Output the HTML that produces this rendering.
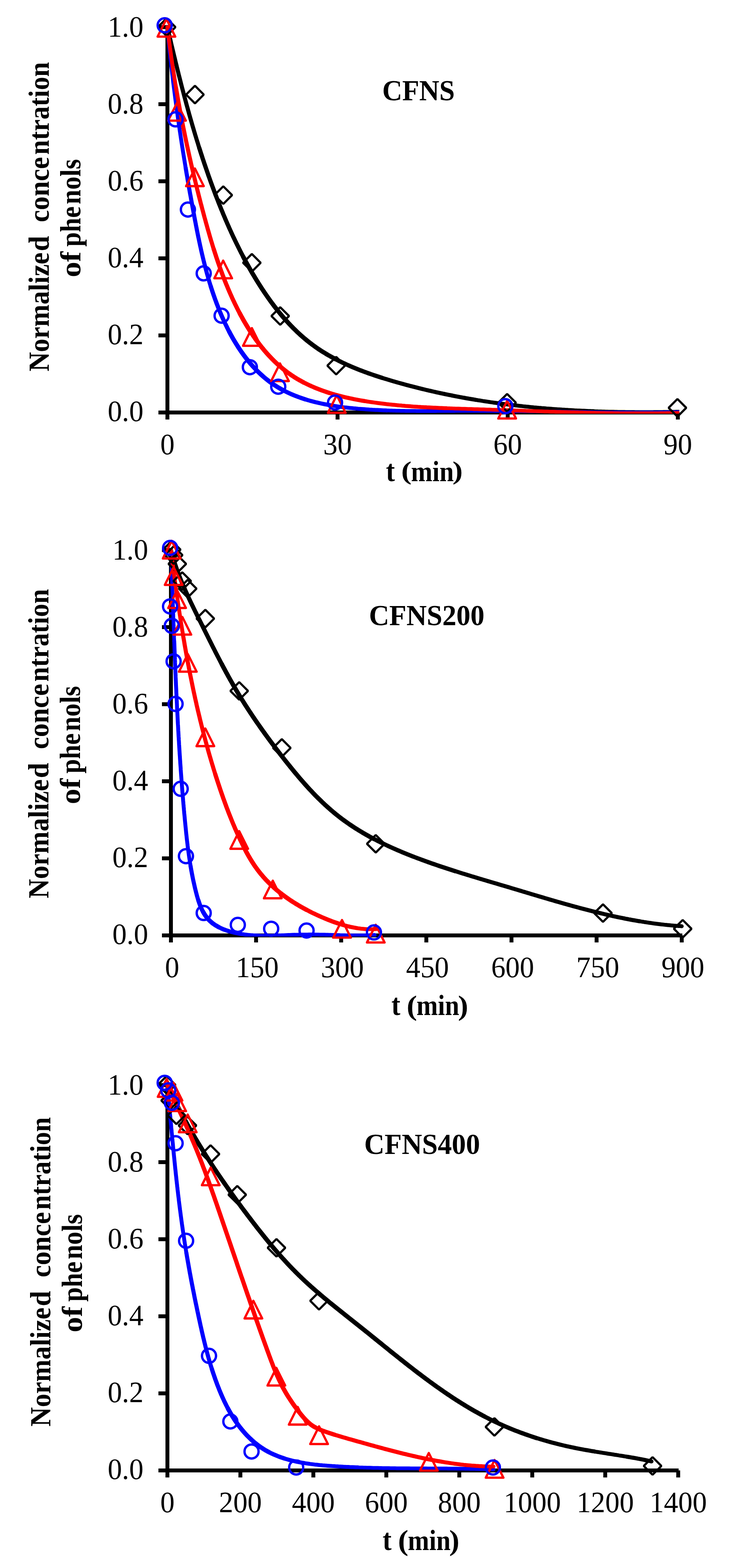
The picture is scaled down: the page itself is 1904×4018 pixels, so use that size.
<!DOCTYPE html>
<html><head><meta charset="utf-8"><title>Normalized concentration of phenols vs time</title>
<style>
html,body{margin:0;padding:0;background:#fff;}
svg{display:block;}
text{font-family:"Liberation Serif","Times New Roman",serif;fill:#000;}
</style></head>
<body>
<svg width="1904" height="4018" viewBox="0 0 1904 4018">
<defs><clipPath id="pa0"><rect x="369" y="-10.5" width="1372" height="1070.5"/></clipPath><clipPath id="pa1"><rect x="378" y="1329.5" width="1392" height="1070.5"/></clipPath><clipPath id="pa2"><rect x="369" y="2700.5" width="1390" height="1070.5"/></clipPath></defs>
<rect width="1904" height="4018" fill="#fff"/>
<line x1="429" y1="64.5" x2="429" y2="1075" stroke="#000" stroke-width="10"/>
<line x1="424" y1="1057" x2="1741" y2="1057" stroke="#000" stroke-width="10"/>
<line x1="406" y1="1057.0" x2="429" y2="1057.0" stroke="#000" stroke-width="10"/>
<line x1="406" y1="859.5" x2="429" y2="859.5" stroke="#000" stroke-width="10"/>
<line x1="406" y1="662.0" x2="429" y2="662.0" stroke="#000" stroke-width="10"/>
<line x1="406" y1="464.5" x2="429" y2="464.5" stroke="#000" stroke-width="10"/>
<line x1="406" y1="267.0" x2="429" y2="267.0" stroke="#000" stroke-width="10"/>
<line x1="406" y1="69.5" x2="429" y2="69.5" stroke="#000" stroke-width="10"/>
<line x1="429.0" y1="1057" x2="429.0" y2="1075" stroke="#000" stroke-width="10"/>
<line x1="865.0" y1="1057" x2="865.0" y2="1075" stroke="#000" stroke-width="10"/>
<line x1="1301.0" y1="1057" x2="1301.0" y2="1075" stroke="#000" stroke-width="10"/>
<line x1="1737.0" y1="1057" x2="1737.0" y2="1075" stroke="#000" stroke-width="10"/>
<g clip-path="url(#pa0)"><g fill="none" stroke="#000000" stroke-linecap="round" stroke-linejoin="round"><path d="M429.0,69.5L429.9,73.4L430.8,77.4L431.7,81.3L432.6,85.2L433.5,89.1L434.4,93.1L435.4,97.0L436.3,100.9L437.2,104.8L438.1,108.8L439.0,112.7L439.9,116.6L440.9,120.5L441.8,124.4L442.7,128.3L443.7,132.3L444.6,136.2L445.5,140.1L446.5,144.0L447.4,147.9L448.4,151.8L449.3,155.7L450.2,159.6L451.2,163.5L452.2,167.4L453.1,171.3L454.1,175.2L455.0,179.1L456.0,183.0L457.0,186.9L457.9,190.8L458.9,194.6L459.9,198.5L460.9,202.4L461.9,206.3L462.9,210.2L463.8,214.1L464.8,217.9L465.8,221.8L466.8,225.7L467.9,229.6L468.9,233.4L469.9,237.3L470.9,241.2L471.9,245.0L472.9,248.9L474.0,252.8L475.0,256.6L476.1,260.5L477.1,264.4L478.1,268.2L479.2,272.1L480.3,275.9L481.3,279.8L482.4,283.6L483.5,287.5L484.5,291.3L485.6,295.2L486.7,299.0L487.8,302.9L488.9,306.7L490.0,310.5L491.1,314.4L492.2,318.2L493.3,322.0L494.4,325.9L495.6,329.7L496.7,333.5L497.8,337.4L499.0,341.2L500.1,345.0L501.3,348.8L502.5,352.7L503.6,356.5L504.8,360.3L506.0,364.1L507.2,367.9L508.3,371.7L509.5,375.6L510.7,379.4" stroke-width="10.5"/><path d="M510.7,379.4L512.0,383.2L513.2,387.0L514.4,390.8L515.6,394.6L516.9,398.4L518.1,402.2L519.3,406.0L520.6,409.8L521.9,413.6L523.1,417.4L524.4,421.1L525.7,424.9L527.0,428.7L528.3,432.5L529.6,436.3L530.9,440.1L532.2,443.8L533.5,447.6L534.8,451.4L536.2,455.2L537.5,458.9L538.9,462.7L540.2,466.5L541.6,470.2L543.0,474.0L544.4,477.8L545.8,481.5L547.2,485.3L548.6,489.0L550.0,492.8L551.4,496.6L552.8,500.3L554.3,504.1L555.7,507.8L557.2,511.5L558.7,515.3L560.1,519.0L561.6,522.8L563.1,526.5L564.6,530.2L566.1,534.0L567.6,537.7L569.2,541.4L570.7,545.1L572.2,548.9L573.8,552.6L575.4,556.3L576.9,560.0L578.5,563.7L580.1,567.4L581.7,571.1L583.3,574.8L585.0,578.5L586.6,582.2L588.2,585.9L589.9,589.5L591.6,593.2L593.2,596.9L594.9,600.5L596.6,604.2L598.3,607.8L600.1,611.5L601.8,615.1L603.6,618.8L605.3,622.4L607.1,626.0L608.9,629.7L610.7,633.3L612.5,636.9L614.3,640.5L616.1,644.1L617.9,647.7L619.8,651.3L621.7,654.9L623.5,658.4" stroke-width="11.0"/><path d="M623.5,658.4L625.4,662.0L627.3,665.6L629.3,669.1L631.2,672.7L633.1,676.2L635.1,679.7L637.1,683.3L639.1,686.8L641.1,690.3L643.1,693.8L645.1,697.3L647.1,700.8L649.2,704.3L651.3,707.7L653.3,711.2L655.4,714.6L657.5,718.1L659.7,721.5L661.8,725.0L664.0,728.4L666.1,731.8L668.3,735.2L670.5,738.6L672.7,742.0L675.0,745.3L677.2,748.7L679.5,752.0L681.8,755.4L684.1,758.7L686.4,762.0L688.7,765.3L691.1,768.6L693.4,771.8L695.8,775.1L698.2,778.3L700.6,781.5L703.0,784.7L705.5,787.9L708.0,791.1L710.4,794.3L713.0,797.4L715.5,800.5L718.0,803.6L720.6,806.7L723.1,809.7L725.7,812.8L728.4,815.8L731.0,818.8L733.6,821.7L736.3,824.7L739.0,827.6L741.7,830.5L744.4,833.4L747.2,836.3L750.0,839.1L752.7,841.9L755.6,844.7L758.4,847.4L761.2,850.2L764.1,852.9L767.0,855.5L769.9,858.2L772.8,860.8L775.8,863.4L778.8,866.0L781.8,868.5L784.8,871.0L787.8,873.5L790.9,875.9L794.0,878.4L797.1,880.7L800.2,883.1L803.4,885.4L806.5,887.7L809.7,890.0L813.0,892.2L816.2,894.4L819.5,896.6L822.7,898.7L826.0,900.8L829.4,902.9L832.7,904.9L836.1,907.0L839.4,909.0L842.8,910.9L846.2,912.9L849.7,914.8L853.1,916.7L856.6,918.5L860.1,920.4" stroke-width="11.5"/><path d="M860.1,920.4L863.6,922.2L867.1,924.0L870.6,925.7L874.2,927.5L877.7,929.2L881.3,930.9L884.9,932.5L888.5,934.2L892.1,935.8L895.7,937.4L899.4,939.0L903.1,940.6L906.7,942.1L910.4,943.6L914.1,945.1L917.8,946.6L921.5,948.1L925.2,949.5L929.0,950.9L932.7,952.4L936.5,953.7L940.3,955.1L944.0,956.5L947.8,957.8L951.6,959.1L955.4,960.4L959.2,961.7L963.0,963.0L966.9,964.3L970.7,965.5L974.5,966.8L978.4,968.0" stroke-width="11.0"/><path d="M978.4,968.0L982.2,969.2L986.1,970.4L989.9,971.6L993.8,972.8L997.7,973.9L1001.5,975.1L1005.4,976.2L1009.3,977.4L1013.2,978.5L1017.0,979.6L1020.9,980.7L1024.8,981.8L1028.7,982.9L1032.6,983.9L1036.5,985.0L1040.4,986.1L1044.3,987.1L1048.2,988.1L1052.1,989.2L1056.0,990.2L1059.9,991.2L1063.9,992.2L1067.8,993.2L1071.7,994.2L1075.6,995.1L1079.5,996.1L1083.5,997.1L1087.4,998.0L1091.3,999.0L1095.2,999.9L1099.2,1000.8L1103.1,1001.7L1107.0,1002.6L1111.0,1003.5L1114.9,1004.4L1118.9,1005.3L1122.8,1006.1L1126.7,1007.0L1130.7,1007.8L1134.6,1008.7L1138.6,1009.5L1142.5,1010.3L1146.5,1011.1L1150.4,1012.0L1154.4,1012.7L1158.3,1013.5L1162.3,1014.3L1166.2,1015.1L1170.2,1015.9L1174.2,1016.6L1178.1,1017.4L1182.1,1018.1L1186.0,1018.8L1190.0,1019.5L1194.0,1020.3L1197.9,1021.0L1201.9,1021.7L1205.9,1022.3L1209.8,1023.0L1213.8,1023.7L1217.8,1024.4" stroke-width="10.5"/><path d="M1217.8,1024.4L1221.7,1025.0L1225.7,1025.7L1229.7,1026.3L1233.6,1026.9L1237.6,1027.6L1241.6,1028.2L1245.5,1028.8L1249.5,1029.4L1253.5,1030.0L1257.4,1030.6L1261.4,1031.1L1265.4,1031.7L1269.4,1032.3L1273.3,1032.8L1277.3,1033.4L1281.3,1033.9L1285.2,1034.4L1289.2,1034.9L1293.2,1035.5L1297.2,1036.0L1301.1,1036.5L1305.1,1037.0L1309.1,1037.4L1313.0,1037.9L1317.0,1038.4L1321.0,1038.9L1325.0,1039.3L1328.9,1039.8L1332.9,1040.2L1336.9,1040.6L1340.9,1041.1L1344.8,1041.5L1348.8,1041.9L1352.8,1042.3L1356.8,1042.7L1360.7,1043.1L1364.7,1043.5L1368.7,1043.9L1372.7,1044.2L1376.6,1044.6L1380.6,1045.0L1384.6,1045.3L1388.6,1045.7L1392.6,1046.0L1396.5,1046.3L1400.5,1046.7L1404.5,1047.0L1408.5,1047.3L1412.5,1047.6L1416.4,1047.9L1420.4,1048.2L1424.4,1048.5L1428.4,1048.8L1432.4,1049.0L1436.4,1049.3L1440.3,1049.6L1444.3,1049.8L1448.3,1050.1L1452.3,1050.3L1456.3,1050.6L1460.3,1050.8L1464.3,1051.0L1468.2,1051.2L1472.2,1051.5L1476.2,1051.7L1480.2,1051.9L1484.2,1052.1L1488.2,1052.3L1492.2,1052.5L1496.2,1052.6L1500.2,1052.8L1504.2,1053.0L1508.1,1053.2L1512.1,1053.3L1516.1,1053.5L1520.1,1053.6" stroke-width="10.0"/><path d="M1520.1,1053.6L1524.1,1053.8L1528.1,1053.9L1532.1,1054.1L1536.1,1054.2L1540.1,1054.3L1544.1,1054.4L1548.1,1054.5L1552.1,1054.7L1556.1,1054.8L1560.1,1054.9L1564.1,1055.0L1568.1,1055.0L1572.1,1055.1L1576.1,1055.2L1580.1,1055.3L1584.1,1055.4L1588.1,1055.4L1592.2,1055.5L1596.2,1055.6L1600.2,1055.6L1604.2,1055.7L1608.2,1055.7L1612.2,1055.7L1616.2,1055.8L1620.2,1055.8L1624.2,1055.8L1628.3,1055.9L1632.3,1055.9L1636.3,1055.9L1640.3,1055.9L1644.3,1055.9L1648.3,1055.9L1652.4,1055.9L1656.4,1055.9L1660.4,1055.9L1664.4,1055.9L1668.4,1055.9L1672.5,1055.9L1676.5,1055.8L1680.5,1055.8L1684.5,1055.8L1688.6,1055.7L1692.6,1055.7L1696.6,1055.7L1700.7,1055.6L1704.7,1055.6L1708.7,1055.5L1712.7,1055.5L1716.8,1055.4L1720.8,1055.3L1724.9,1055.3L1728.9,1055.2L1732.9,1055.1L1737.0,1055.1L1741.0,1055.0" stroke-width="9.5"/></g><g fill="none" stroke="#0000FF" stroke-linecap="round" stroke-linejoin="round"><path d="M429.0,69.5L429.4,73.5L429.7,77.6L430.1,81.6L430.5,85.6L430.9,89.7L431.2,93.7L431.6,97.7L432.0,101.7L432.4,105.8L432.8,109.8L433.2,113.8L433.6,117.8L434.0,121.8L434.4,125.8L434.8,129.8L435.2,133.8L435.7,137.8L436.1,141.8L436.5,145.8L436.9,149.8L437.4,153.8L437.8,157.8L438.3,161.8L438.7,165.8L439.1,169.8L439.6,173.8L440.1,177.8L440.5,181.8L441.0,185.7L441.4,189.7L441.9,193.7L442.4,197.7L442.8,201.7L443.3,205.6L443.8,209.6L444.3,213.6L444.8,217.5L445.3,221.5L445.8,225.5L446.3,229.5L446.8,233.4L447.3,237.4L447.8,241.3L448.3,245.3L448.8,249.3L449.3,253.2L449.8,257.2L450.4,261.1L450.9,265.1L451.4,269.1L452.0,273.0L452.5,277.0L453.0,280.9L453.6,284.9L454.1,288.8L454.7,292.8L455.2,296.7L455.8,300.7L456.3,304.6L456.9,308.6L457.5,312.5L458.0,316.5L458.6,320.4L459.2,324.3L459.8,328.3L460.3,332.2L460.9,336.2L461.5,340.1L462.1,344.1L462.7,348.0L463.3,351.9L463.9,355.9L464.5,359.8L465.1,363.8L465.7,367.7L466.3,371.6L466.9,375.6L467.6,379.5L468.2,383.4L468.8,387.4L469.4,391.3L470.1,395.3L470.7,399.2L471.3,403.1L472.0,407.1L472.6,411.0L473.3,414.9L473.9,418.9L474.6,422.8L475.2,426.8L475.9,430.7" stroke-width="10.0"/><path d="M475.9,430.7L476.5,434.6L477.2,438.6L477.8,442.5L478.5,446.4L479.2,450.4L479.9,454.3L480.5,458.3L481.2,462.2L481.9,466.1L482.6,470.1L483.3,474.0L484.0,478.0L484.6,481.9L485.3,485.8L486.0,489.8L486.7,493.7L487.4,497.7L488.2,501.6L488.9,505.6L489.6,509.5L490.3,513.5L491.0,517.4L491.7,521.4L492.5,525.3L493.2,529.3L493.9,533.2L494.6,537.2L495.4,541.1L496.1,545.1L496.9,549.0L497.6,553.0L498.3,556.9L499.1,560.9L499.8,564.8L500.6,568.8L501.4,572.7L502.1,576.7L502.9,580.7L503.7,584.6L504.4,588.6L505.2,592.5L506.0,596.5L506.8,600.5L507.6,604.4L508.4,608.4L509.3,612.3L510.1,616.3L510.9,620.2L511.8,624.2L512.6,628.1L513.5,632.1L514.4,636.0L515.2,640.0L516.1,643.9L517.0,647.8L517.9,651.8L518.9,655.7L519.8,659.7L520.8,663.6L521.7,667.5L522.7,671.4L523.7,675.4L524.7,679.3L525.7,683.2L526.7,687.1L527.7,691.0L528.8,694.9L529.8,698.8L530.9,702.7L532.0,706.6L533.1,710.5L534.2,714.4L535.4,718.3L536.5,722.2L537.7,726.1L538.9,729.9L540.1,733.8" stroke-width="10.5"/><path d="M540.1,733.8L541.3,737.7L542.6,741.5L543.8,745.4L545.1,749.2L546.4,753.1L547.7,756.9L549.1,760.7L550.4,764.6L551.8,768.4L553.2,772.2L554.6,776.0L556.0,779.8L557.5,783.6L559.0,787.4L560.5,791.2L562.0,795.0L563.5,798.7L565.1,802.5L566.7,806.2L568.3,810.0L570.0,813.7L571.6,817.4L573.3,821.1L575.0,824.8L576.7,828.5L578.5,832.2L580.3,835.8L582.1,839.5L583.9,843.1L585.7,846.7L587.6,850.3" stroke-width="11.0"/><path d="M587.6,850.3L589.5,853.9L591.4,857.4L593.4,861.0L595.3,864.5L597.3,868.0L599.3,871.4L601.4,874.9L603.5,878.3L605.6,881.7L607.7,885.1L609.8,888.5L612.0,891.8L614.2,895.1L616.4,898.4L618.7,901.7L621.0,904.9L623.3,908.1L625.6,911.3L628.0,914.4L630.3,917.6L632.8,920.7L635.2,923.7L637.7,926.7L640.2,929.7L642.7,932.7L645.3,935.6L647.8,938.5L650.5,941.4L653.1,944.2L655.8,947.0L658.5,949.8L661.2,952.5L664.0,955.1L666.7,957.8L669.6,960.4L672.4,962.9L675.3,965.5L678.2,968.0L681.1,970.4L684.1,972.8L687.1,975.1L690.1,977.5L693.2,979.7L696.3,981.9L699.4,984.1L702.5,986.2L705.7,988.3L708.9,990.4L712.2,992.4L715.5,994.3L718.8,996.2L722.1,998.1L725.5,999.9" stroke-width="11.5"/><path d="M725.5,999.9L728.9,1001.7L732.3,1003.4L735.7,1005.1L739.2,1006.7L742.7,1008.3L746.2,1009.9L749.8,1011.4L753.4,1012.9L757.0,1014.3L760.6,1015.7L764.2,1017.1L767.9,1018.4L771.6,1019.7L775.3,1021.0L779.0,1022.2L782.7,1023.4" stroke-width="11.0"/><path d="M782.7,1023.4L786.5,1024.6L790.3,1025.7L794.1,1026.8L797.9,1027.8L801.8,1028.8L805.6,1029.8L809.5,1030.8L813.4,1031.7L817.3,1032.6L821.2,1033.5L825.1,1034.4L829.0,1035.2L833.0,1036.0L836.9,1036.7L840.9,1037.5L844.9,1038.2L848.9,1038.9" stroke-width="10.5"/><path d="M848.9,1038.9L852.9,1039.6L856.9,1040.2L860.9,1040.8L865.0,1041.4L869.0,1042.0L873.1,1042.5L877.1,1043.1L881.2,1043.6L885.2,1044.1L889.3,1044.5L893.4,1045.0L897.5,1045.4L901.5,1045.8L905.6,1046.3L909.7,1046.6L913.8,1047.0L917.9,1047.4L922.0,1047.7L926.0,1048.0L930.1,1048.3L934.2,1048.6L938.3,1048.9L942.4,1049.2L946.4,1049.5L950.5,1049.7L954.6,1050.0L958.7,1050.2L962.7,1050.4L966.8,1050.6L970.9,1050.8L974.9,1051.0L979.0,1051.2L983.0,1051.4L987.1,1051.5L991.1,1051.7" stroke-width="10.0"/><path d="M991.1,1051.7L995.2,1051.8L999.2,1052.0L1003.3,1052.1L1007.3,1052.2L1011.4,1052.3L1015.4,1052.4L1019.5,1052.5L1023.5,1052.6L1027.5,1052.7L1031.6,1052.8L1035.6,1052.8L1039.6,1052.9L1043.7,1053.0L1047.7,1053.0L1051.7,1053.1L1055.8,1053.1L1059.8,1053.1L1063.8,1053.1L1067.8,1053.2L1071.8,1053.2L1075.9,1053.2L1079.9,1053.2L1083.9,1053.2L1087.9,1053.2L1091.9,1053.2L1096.0,1053.2L1100.0,1053.2L1104.0,1053.2L1108.0,1053.2L1112.0,1053.2L1116.0,1053.2L1120.0,1053.1L1124.0,1053.1L1128.0,1053.1L1132.0,1053.1L1136.1,1053.0L1140.1,1053.0L1144.1,1053.0L1148.1,1053.0L1152.1,1052.9L1156.1,1052.9L1160.1,1052.9L1164.1,1052.9L1168.1,1052.8L1172.1,1052.8L1176.1,1052.8L1180.1,1052.8L1184.1,1052.7L1188.1,1052.7L1192.1,1052.7L1196.1,1052.7L1200.1,1052.7L1204.1,1052.7L1208.1,1052.7L1212.1,1052.7L1216.1,1052.7L1220.1,1052.7L1224.1,1052.7L1228.1,1052.7L1232.1,1052.7L1236.1,1052.7L1240.1,1052.7L1244.1,1052.7L1248.1,1052.7L1252.1,1052.8L1256.1,1052.8L1260.1,1052.8L1264.1,1052.8L1268.1,1052.9L1272.1,1052.9L1276.1,1052.9L1280.1,1053.0L1284.1,1053.0L1288.1,1053.0L1292.1,1053.1L1296.1,1053.1L1300.1,1053.1L1304.1,1053.2L1308.1,1053.2L1312.1,1053.3L1316.1,1053.3L1320.1,1053.4L1324.1,1053.4L1328.1,1053.5L1332.1,1053.5L1336.1,1053.6L1340.1,1053.6L1344.1,1053.7L1348.1,1053.7L1352.1,1053.8L1356.1,1053.9L1360.1,1053.9L1364.1,1054.0L1368.1,1054.0L1372.1,1054.1L1376.1,1054.2L1380.1,1054.2L1384.1,1054.3L1388.1,1054.4L1392.1,1054.4L1396.1,1054.5L1400.1,1054.5L1404.1,1054.6L1408.1,1054.7L1412.1,1054.7L1416.1,1054.8L1420.1,1054.9L1424.1,1054.9L1428.1,1055.0L1432.2,1055.1L1436.2,1055.1L1440.2,1055.2L1444.2,1055.3L1448.2,1055.3L1452.2,1055.4L1456.2,1055.5L1460.2,1055.5L1464.2,1055.6L1468.2,1055.6L1472.2,1055.7L1476.2,1055.8L1480.2,1055.8L1484.2,1055.9L1488.2,1055.9L1492.2,1056.0L1496.2,1056.1L1500.2,1056.1L1504.2,1056.2L1508.2,1056.2L1512.2,1056.3L1516.2,1056.3L1520.3,1056.4L1524.3,1056.4L1528.3,1056.5L1532.3,1056.5L1536.3,1056.6L1540.3,1056.6L1544.3,1056.7L1548.3,1056.7L1552.3,1056.8L1556.3,1056.8L1560.3,1056.8L1564.3,1056.9L1568.3,1056.9L1572.4,1056.9L1576.4,1057.0L1580.4,1057.0L1584.4,1057.0L1588.4,1057.0L1592.4,1057.1L1596.4,1057.1L1600.4,1057.1L1604.4,1057.1L1608.4,1057.1L1612.5,1057.1L1616.5,1057.1L1620.5,1057.2L1624.5,1057.2L1628.5,1057.2L1632.5,1057.2L1636.5,1057.2L1640.6,1057.1L1644.6,1057.1L1648.6,1057.1L1652.6,1057.1L1656.6,1057.1L1660.6,1057.1L1664.6,1057.1L1668.7,1057.0L1672.7,1057.0L1676.7,1057.0L1680.7,1056.9L1684.7,1056.9L1688.7,1056.8L1692.8,1056.8L1696.8,1056.8L1700.8,1056.7L1704.8,1056.6L1708.8,1056.6L1712.9,1056.5L1716.9,1056.5L1720.9,1056.4L1724.9,1056.3L1728.9,1056.2L1733.0,1056.2L1737.0,1056.1L1741.0,1056.0" stroke-width="9.5"/></g><g fill="none" stroke="#FF0000" stroke-linecap="round" stroke-linejoin="round"><path d="M429.0,69.5L429.5,73.5L430.0,77.5L430.4,81.6L430.9,85.6L431.4,89.6L431.9,93.6L432.4,97.6L432.9,101.6L433.4,105.6L434.0,109.6L434.5,113.7L435.0,117.7L435.5,121.7L436.1,125.7L436.6,129.6L437.2,133.6L437.7,137.6L438.3,141.6L438.8,145.6L439.4,149.6L440.0,153.6L440.6,157.6L441.1,161.5L441.7,165.5L442.3,169.5L442.9,173.5L443.5,177.4L444.1,181.4L444.7,185.4L445.3,189.3L446.0,193.3L446.6,197.3L447.2,201.2L447.8,205.2L448.5,209.1L449.1,213.1L449.8,217.1L450.4,221.0L451.1,225.0" stroke-width="10.0"/><path d="M451.1,225.0L451.8,228.9L452.4,232.9L453.1,236.8L453.8,240.7L454.5,244.7L455.1,248.6L455.8,252.6L456.5,256.5L457.2,260.4L457.9,264.4L458.7,268.3L459.4,272.3L460.1,276.2L460.8,280.1L461.5,284.0L462.3,288.0L463.0,291.9L463.8,295.8L464.5,299.8L465.3,303.7L466.0,307.6L466.8,311.5L467.6,315.4L468.3,319.4L469.1,323.3L469.9,327.2L470.7,331.1L471.5,335.0L472.3,338.9L473.1,342.9L473.9,346.8L474.7,350.7L475.5,354.6L476.3,358.5L477.1,362.4L478.0,366.3L478.8,370.2L479.6,374.1L480.5,378.0L481.3,381.9L482.2,385.8L483.0,389.7L483.9,393.6L484.7,397.5L485.6,401.4L486.5,405.3L487.4,409.2L488.3,413.1L489.1,417.0L490.0,420.9L490.9,424.8L491.8,428.7L492.7,432.6L493.7,436.5L494.6,440.4L495.5,444.3L496.4,448.2L497.3,452.1L498.3,456.0L499.2,459.9L500.2,463.7L501.1,467.6L502.1,471.5L503.0,475.4L504.0,479.3L504.9,483.2L505.9,487.1L506.9,491.0L507.9,494.9L508.8,498.7L509.8,502.6L510.8,506.5L511.8,510.4L512.8,514.3L513.8,518.2L514.8,522.1L515.9,526.0L516.9,529.8L517.9,533.7L518.9,537.6L520.0,541.5L521.0,545.4L522.0,549.3L523.1,553.2L524.1,557.1L525.2,560.9L526.3,564.8L527.3,568.7L528.4,572.6L529.5,576.5L530.6,580.4L531.6,584.2L532.7,588.1L533.9,592.0L535.0,595.9L536.1,599.8L537.2,603.6L538.3,607.5L539.5,611.4L540.6,615.3L541.8,619.1L543.0,623.0L544.1,626.8L545.3,630.7L546.5,634.6L547.7,638.4" stroke-width="10.5"/><path d="M547.7,638.4L549.0,642.3L550.2,646.1L551.4,649.9L552.7,653.8L553.9,657.6L555.2,661.5L556.5,665.3L557.8,669.1L559.1,672.9L560.4,676.7L561.7,680.5L563.1,684.4L564.4,688.2L565.8,692.0L567.2,695.7L568.6,699.5L570.0,703.3L571.4,707.1L572.9,710.9L574.3,714.6L575.8,718.4L577.3,722.1L578.8,725.9L580.3,729.6L581.9,733.3L583.4,737.1L585.0,740.8L586.6,744.5L588.2,748.2L589.8,751.9L591.4,755.6L593.1,759.3L594.7,763.0L596.4,766.6L598.1,770.3L599.9,773.9L601.6,777.6L603.4,781.2L605.2,784.9L607.0,788.5L608.8,792.1L610.6,795.7L612.5,799.3L614.4,802.9" stroke-width="11.0"/><path d="M614.4,802.9L616.3,806.4L618.2,810.0L620.2,813.5L622.1,817.1L624.1,820.6L626.1,824.1L628.2,827.6L630.2,831.0L632.3,834.5L634.4,837.9L636.5,841.4L638.7,844.8L640.8,848.2L643.0,851.5L645.2,854.9L647.5,858.2L649.7,861.5L652.0,864.8L654.3,868.1L656.6,871.3L659.0,874.5L661.4,877.7L663.8,880.9L666.2,884.0L668.6,887.2L671.1,890.3L673.6,893.3L676.1,896.4L678.7,899.4L681.2,902.4L683.8,905.3L686.5,908.3L689.1,911.2L691.8,914.0L694.5,916.9L697.2,919.7L700.0,922.5L702.7,925.2L705.5,927.9L708.4,930.6L711.2,933.2L714.1,935.8L717.0,938.4L720.0,940.9L723.0,943.4L725.9,945.9L729.0,948.3L732.0,950.7L735.1,953.0L738.2,955.3L741.4,957.6L744.5,959.8L747.7,962.0L751.0,964.1L754.2,966.2L757.5,968.3L760.8,970.3L764.1,972.3L767.5,974.2L770.9,976.1L774.3,978.0L777.7,979.8" stroke-width="11.5"/><path d="M777.7,979.8L781.2,981.6L784.7,983.3L788.2,985.1L791.7,986.7L795.3,988.4L798.9,990.0L802.5,991.5L806.1,993.1L809.7,994.6L813.4,996.0L817.1,997.5L820.8,998.9L824.5,1000.3L828.2,1001.6L832.0,1002.9L835.8,1004.2L839.5,1005.4L843.3,1006.7" stroke-width="11.0"/><path d="M843.3,1006.7L847.2,1007.8L851.0,1009.0L854.8,1010.1L858.7,1011.2L862.6,1012.3L866.5,1013.4L870.4,1014.4L874.3,1015.4L878.2,1016.4L882.1,1017.3L886.1,1018.3L890.0,1019.2L894.0,1020.0L897.9,1020.9L901.9,1021.7L905.9,1022.6L909.9,1023.4L913.9,1024.1L917.9,1024.9L921.9,1025.6L925.9,1026.3L930.0,1027.0L934.0,1027.7" stroke-width="10.5"/><path d="M934.0,1027.7L938.0,1028.3L942.0,1029.0L946.1,1029.6L950.1,1030.2L954.1,1030.8L958.2,1031.4L962.2,1031.9L966.3,1032.5L970.3,1033.0L974.3,1033.5L978.4,1034.0L982.4,1034.5L986.5,1035.0L990.5,1035.5L994.5,1035.9L998.6,1036.4L1002.6,1036.8L1006.6,1037.2L1010.7,1037.6L1014.7,1038.0L1018.7,1038.4L1022.8,1038.8L1026.8,1039.1L1030.8,1039.5L1034.8,1039.8L1038.9,1040.2L1042.9,1040.5L1046.9,1040.8L1050.9,1041.1L1055.0,1041.4L1059.0,1041.7L1063.0,1041.9L1067.0,1042.2L1071.1,1042.5L1075.1,1042.7L1079.1,1043.0L1083.1,1043.2L1087.2,1043.4L1091.2,1043.6L1095.2,1043.9L1099.2,1044.1L1103.2,1044.3L1107.2,1044.5L1111.3,1044.7L1115.3,1044.8L1119.3,1045.0L1123.3,1045.2L1127.3,1045.4L1131.3,1045.5L1135.4,1045.7L1139.4,1045.9L1143.4,1046.0" stroke-width="10.0"/><path d="M1143.4,1046.0L1147.4,1046.2L1151.4,1046.3L1155.4,1046.4L1159.4,1046.6L1163.5,1046.7L1167.5,1046.9L1171.5,1047.0L1175.5,1047.1L1179.5,1047.2L1183.5,1047.4L1187.5,1047.5L1191.5,1047.6L1195.5,1047.7L1199.6,1047.9L1203.6,1048.0L1207.6,1048.1L1211.6,1048.2L1215.6,1048.4L1219.6,1048.5L1223.6,1048.6L1227.6,1048.7L1231.6,1048.9L1235.6,1049.0L1239.6,1049.1L1243.6,1049.2L1247.7,1049.4L1251.7,1049.5L1255.7,1049.6L1259.7,1049.8L1263.7,1049.9L1267.7,1050.0L1271.7,1050.2L1275.7,1050.3L1279.7,1050.4L1283.7,1050.6L1287.7,1050.7L1291.7,1050.8L1295.7,1051.0L1299.7,1051.1L1303.7,1051.3L1307.7,1051.4L1311.7,1051.5L1315.7,1051.7L1319.8,1051.8L1323.8,1051.9L1327.8,1052.1L1331.8,1052.2L1335.8,1052.3L1339.8,1052.5L1343.8,1052.6L1347.8,1052.8L1351.8,1052.9L1355.8,1053.0L1359.8,1053.2L1363.8,1053.3L1367.8,1053.4L1371.8,1053.6L1375.8,1053.7L1379.8,1053.8L1383.8,1054.0L1387.8,1054.1L1391.8,1054.2L1395.8,1054.4L1399.8,1054.5L1403.8,1054.6L1407.8,1054.7L1411.9,1054.9L1415.9,1055.0L1419.9,1055.1L1423.9,1055.2L1427.9,1055.4L1431.9,1055.5L1435.9,1055.6L1439.9,1055.7L1443.9,1055.8L1447.9,1056.0L1451.9,1056.1L1455.9,1056.2L1459.9,1056.3L1463.9,1056.4L1467.9,1056.5L1471.9,1056.6L1475.9,1056.7L1479.9,1056.8L1484.0,1056.9L1488.0,1057.0L1492.0,1057.1L1496.0,1057.2L1500.0,1057.3L1504.0,1057.4L1508.0,1057.5L1512.0,1057.6L1516.0,1057.7L1520.0,1057.8L1524.0,1057.8L1528.0,1057.9L1532.0,1058.0L1536.1,1058.1L1540.1,1058.2L1544.1,1058.2L1548.1,1058.3L1552.1,1058.4L1556.1,1058.4L1560.1,1058.5L1564.1,1058.6L1568.1,1058.6L1572.2,1058.7L1576.2,1058.7L1580.2,1058.8L1584.2,1058.8L1588.2,1058.9L1592.2,1058.9L1596.2,1058.9L1600.2,1059.0L1604.3,1059.0L1608.3,1059.0L1612.3,1059.0L1616.3,1059.1L1620.3,1059.1L1624.3,1059.1L1628.4,1059.1L1632.4,1059.1L1636.4,1059.1L1640.4,1059.1L1644.4,1059.1L1648.4,1059.1L1652.5,1059.1L1656.5,1059.1L1660.5,1059.1L1664.5,1059.1L1668.5,1059.1L1672.6,1059.0L1676.6,1059.0L1680.6,1059.0L1684.6,1058.9L1688.7,1058.9L1692.7,1058.8L1696.7,1058.8L1700.7,1058.7L1704.8,1058.7L1708.8,1058.6L1712.8,1058.6L1716.8,1058.5L1720.9,1058.4L1724.9,1058.3L1728.9,1058.3L1732.9,1058.2L1737.0,1058.1L1741.0,1058.0" stroke-width="9.5"/></g></g>
<path d="M427.0,46.9L449.6,69.5L427.0,92.1L404.4,69.5Z" fill="none" stroke="#000000" stroke-width="5.5" stroke-linejoin="bevel"/>
<path d="M499.6,219.8L522.2,242.4L499.6,265.0L477.0,242.4Z" fill="none" stroke="#000000" stroke-width="5.5" stroke-linejoin="bevel"/>
<path d="M572.2,477.4L594.8,500.0L572.2,522.6L549.6,500.0Z" fill="none" stroke="#000000" stroke-width="5.5" stroke-linejoin="bevel"/>
<path d="M645.4,650.8L668.0,673.4L645.4,696.0L622.8,673.4Z" fill="none" stroke="#000000" stroke-width="5.5" stroke-linejoin="bevel"/>
<path d="M718.1,787.2L740.7,809.8L718.1,832.4L695.5,809.8Z" fill="none" stroke="#000000" stroke-width="5.5" stroke-linejoin="bevel"/>
<path d="M861.5,914.4L884.1,937.0L861.5,959.6L838.9,937.0Z" fill="none" stroke="#000000" stroke-width="5.5" stroke-linejoin="bevel"/>
<path d="M1299.5,1009.4L1322.1,1032.0L1299.5,1054.6L1276.9,1032.0Z" fill="none" stroke="#000000" stroke-width="5.5" stroke-linejoin="bevel"/>
<path d="M1736.0,1022.4L1758.6,1045.0L1736.0,1067.6L1713.4,1045.0Z" fill="none" stroke="#000000" stroke-width="5.5" stroke-linejoin="bevel"/>
<path d="M426.5,48.6L449.1,93.8L403.9,93.8Z" fill="none" stroke="#FF0000" stroke-width="5.8" stroke-linejoin="round"/>
<path d="M453.5,263.9L476.1,309.1L430.9,309.1Z" fill="none" stroke="#FF0000" stroke-width="5.8" stroke-linejoin="round"/>
<path d="M499.5,431.8L522.1,477.0L476.9,477.0Z" fill="none" stroke="#FF0000" stroke-width="5.8" stroke-linejoin="round"/>
<path d="M571.9,667.9L594.5,713.1L549.3,713.1Z" fill="none" stroke="#FF0000" stroke-width="5.8" stroke-linejoin="round"/>
<path d="M645.5,840.9L668.1,886.1L622.9,886.1Z" fill="none" stroke="#FF0000" stroke-width="5.8" stroke-linejoin="round"/>
<path d="M717.5,931.3L740.1,976.5L694.9,976.5Z" fill="none" stroke="#FF0000" stroke-width="5.8" stroke-linejoin="round"/>
<path d="M863.0,1012.7L885.6,1057.9L840.4,1057.9Z" fill="none" stroke="#FF0000" stroke-width="5.8" stroke-linejoin="round"/>
<path d="M1299.6,1027.2L1322.2,1072.4L1277.0,1072.4Z" fill="none" stroke="#FF0000" stroke-width="5.8" stroke-linejoin="round"/>
<circle cx="422.0" cy="64.8" r="18.0" fill="none" stroke="#0000FF" stroke-width="6.0"/>
<circle cx="449.8" cy="305.8" r="18.0" fill="none" stroke="#0000FF" stroke-width="6.0"/>
<circle cx="481.5" cy="537.0" r="18.0" fill="none" stroke="#0000FF" stroke-width="6.0"/>
<circle cx="522.0" cy="700.5" r="18.0" fill="none" stroke="#0000FF" stroke-width="6.0"/>
<circle cx="567.9" cy="809.0" r="18.0" fill="none" stroke="#0000FF" stroke-width="6.0"/>
<circle cx="640.3" cy="940.9" r="18.0" fill="none" stroke="#0000FF" stroke-width="6.0"/>
<circle cx="713.0" cy="990.9" r="18.0" fill="none" stroke="#0000FF" stroke-width="6.0"/>
<circle cx="858.6" cy="1031.5" r="18.0" fill="none" stroke="#0000FF" stroke-width="6.0"/>
<circle cx="1295.0" cy="1040.8" r="18.0" fill="none" stroke="#0000FF" stroke-width="6.0"/>
<text x="367.6" y="1078.5" font-size="76" textLength="91.7" lengthAdjust="spacingAndGlyphs" text-anchor="end">0.0</text>
<text x="367.6" y="881.5" font-size="76" textLength="91.7" lengthAdjust="spacingAndGlyphs" text-anchor="end">0.2</text>
<text x="367.6" y="684.5" font-size="76" textLength="91.7" lengthAdjust="spacingAndGlyphs" text-anchor="end">0.4</text>
<text x="367.6" y="487.5" font-size="76" textLength="91.7" lengthAdjust="spacingAndGlyphs" text-anchor="end">0.6</text>
<text x="367.6" y="290.5" font-size="76" textLength="91.7" lengthAdjust="spacingAndGlyphs" text-anchor="end">0.8</text>
<text x="367.6" y="93.5" font-size="76" textLength="91.7" lengthAdjust="spacingAndGlyphs" text-anchor="end">1.0</text>
<text x="429.0" y="1164" font-size="76" textLength="36.7" lengthAdjust="spacingAndGlyphs" text-anchor="middle">0</text>
<text x="865.0" y="1164" font-size="76" textLength="73.3" lengthAdjust="spacingAndGlyphs" text-anchor="middle">30</text>
<text x="1301.0" y="1164" font-size="76" textLength="73.3" lengthAdjust="spacingAndGlyphs" text-anchor="middle">60</text>
<text x="1737.0" y="1164" font-size="76" textLength="73.3" lengthAdjust="spacingAndGlyphs" text-anchor="middle">90</text>
<text x="979.4" y="256.7" font-size="74" font-weight="bold" textLength="186.0" lengthAdjust="spacingAndGlyphs" text-anchor="start">CFNS</text>
<text x="988.9" y="1232.7" font-size="79" font-weight="bold" textLength="22.9" lengthAdjust="spacingAndGlyphs" text-anchor="start">t</text>
<text x="1028.0" y="1228.2" font-size="66.5" font-weight="bold" textLength="26.8" lengthAdjust="spacingAndGlyphs" text-anchor="start">(</text>
<text x="1053.2" y="1232.7" font-size="74" font-weight="bold" textLength="109.6" lengthAdjust="spacingAndGlyphs" text-anchor="start">min</text>
<text x="1159.4" y="1228.2" font-size="66.5" font-weight="bold" textLength="26.4" lengthAdjust="spacingAndGlyphs" text-anchor="start">)</text>
<text x="124.9" y="951.8" font-size="74" font-weight="bold" textLength="304.9" lengthAdjust="spacingAndGlyphs" transform="rotate(-90 124.9 951.8)">Normalize</text>
<text x="124.9" y="643.7" font-size="74" font-weight="bold" textLength="39.3" lengthAdjust="spacingAndGlyphs" transform="rotate(-90 124.9 643.7)">d</text>
<text x="124.9" y="569.6" font-size="74" font-weight="bold" textLength="167.6" lengthAdjust="spacingAndGlyphs" transform="rotate(-90 124.9 569.6)">conce</text>
<text x="124.9" y="396.6" font-size="74" font-weight="bold" textLength="237.5" lengthAdjust="spacingAndGlyphs" transform="rotate(-90 124.9 396.6)">ntration</text>
<text x="206.3" y="710.6" font-size="74" font-weight="bold" textLength="66.1" lengthAdjust="spacingAndGlyphs" transform="rotate(-90 206.3 710.6)">of</text>
<text x="206.3" y="631.9" font-size="74" font-weight="bold" textLength="103.0" lengthAdjust="spacingAndGlyphs" transform="rotate(-90 206.3 631.9)">phe</text>
<text x="206.3" y="523.5" font-size="74" font-weight="bold" textLength="116.0" lengthAdjust="spacingAndGlyphs" transform="rotate(-90 206.3 523.5)">nols</text>
<line x1="438" y1="1404.5" x2="438" y2="2415" stroke="#000" stroke-width="10"/>
<line x1="433" y1="2397" x2="1748.5" y2="2397" stroke="#000" stroke-width="10"/>
<line x1="415" y1="2397.0" x2="438" y2="2397.0" stroke="#000" stroke-width="10"/>
<line x1="415" y1="2199.5" x2="438" y2="2199.5" stroke="#000" stroke-width="10"/>
<line x1="415" y1="2002.0" x2="438" y2="2002.0" stroke="#000" stroke-width="10"/>
<line x1="415" y1="1804.5" x2="438" y2="1804.5" stroke="#000" stroke-width="10"/>
<line x1="415" y1="1607.0" x2="438" y2="1607.0" stroke="#000" stroke-width="10"/>
<line x1="415" y1="1409.5" x2="438" y2="1409.5" stroke="#000" stroke-width="10"/>
<line x1="438.0" y1="2397" x2="438.0" y2="2415" stroke="#000" stroke-width="10"/>
<line x1="656.2" y1="2397" x2="656.2" y2="2415" stroke="#000" stroke-width="10"/>
<line x1="874.3" y1="2397" x2="874.3" y2="2415" stroke="#000" stroke-width="10"/>
<line x1="1092.5" y1="2397" x2="1092.5" y2="2415" stroke="#000" stroke-width="10"/>
<line x1="1310.7" y1="2397" x2="1310.7" y2="2415" stroke="#000" stroke-width="10"/>
<line x1="1528.8" y1="2397" x2="1528.8" y2="2415" stroke="#000" stroke-width="10"/>
<line x1="1747.0" y1="2397" x2="1747.0" y2="2415" stroke="#000" stroke-width="10"/>
<g clip-path="url(#pa1)"><g fill="none" stroke="#000000" stroke-linecap="round" stroke-linejoin="round"><path d="M438.0,1409.5L439.0,1413.4L440.0,1417.3L441.1,1421.2L442.2,1425.1L443.3,1428.9L444.5,1432.8L445.7,1436.6" stroke-width="10.5"/><path d="M445.7,1436.6L446.9,1440.4L448.1,1444.3L449.4,1448.1L450.7,1451.9L452.0,1455.6L453.3,1459.4L454.7,1463.2L456.1,1466.9L457.5,1470.7L458.9,1474.4L460.3,1478.1L461.8,1481.8L463.3,1485.5L464.8,1489.2L466.3,1492.9L467.9,1496.6L469.4,1500.3L471.0,1504.0L472.6,1507.6L474.2,1511.3L475.8,1514.9L477.5,1518.6L479.1,1522.2L480.8,1525.9L482.4,1529.5L484.1,1533.1L485.8,1536.7L487.5,1540.4L489.2,1544.0L491.0,1547.6L492.7,1551.2L494.5,1554.8L496.2,1558.4L498.0,1562.0L499.7,1565.6L501.5,1569.2L503.3,1572.8L505.0,1576.4L506.8,1580.0L508.6,1583.6L510.4,1587.2L512.2,1590.8L514.0,1594.4L515.8,1598.0L517.6,1601.6L519.4,1605.2L521.1,1608.8L522.9,1612.4L524.7,1616.0L526.5,1619.6L528.3,1623.2L530.1,1626.8L531.9,1630.4L533.7,1634.0L535.5,1637.6L537.3,1641.2L539.1,1644.8L540.9,1648.4L542.7,1652.0L544.5,1655.6L546.3,1659.2L548.2,1662.8L550.0,1666.4L551.8,1670.0L553.6,1673.6L555.5,1677.1L557.3,1680.7L559.2,1684.3L561.0,1687.9L562.9,1691.4L564.7,1695.0L566.6,1698.6L568.5,1702.1" stroke-width="11.0"/><path d="M568.5,1702.1L570.3,1705.7L572.2,1709.2L574.1,1712.8L576.0,1716.3L577.9,1719.9L579.8,1723.4L581.8,1726.9L583.7,1730.4L585.6,1734.0L587.6,1737.5L589.5,1741.0L591.5,1744.5L593.5,1748.0L595.5,1751.4L597.4,1754.9L599.4,1758.4L601.5,1761.9L603.5,1765.3L605.5,1768.8L607.6,1772.2L609.6,1775.6L611.7,1779.1L613.7,1782.5L615.8,1785.9L617.9,1789.3L620.0,1792.7L622.1,1796.1L624.3,1799.5L626.4,1802.8L628.5,1806.2L630.7,1809.6L632.9,1812.9L635.0,1816.3L637.2,1819.6L639.4,1823.0L641.6,1826.3L643.8,1829.6L646.0,1832.9L648.2,1836.3L650.5,1839.6L652.7,1842.9L655.0,1846.2L657.2,1849.5L659.5,1852.8L661.8,1856.0L664.1,1859.3L666.4,1862.6L668.7,1865.9L671.0,1869.1L673.3,1872.4L675.7,1875.6L678.0,1878.9L680.3,1882.1L682.7,1885.4L685.1,1888.6L687.4,1891.8L689.8,1895.0L692.2,1898.3L694.6,1901.5L697.0,1904.7L699.4,1907.9L701.8,1911.1L704.2,1914.3L706.7,1917.5L709.1,1920.7L711.6,1923.9L714.0,1927.1L716.5,1930.3L718.9,1933.5L721.4,1936.6L723.9,1939.8L726.4,1943.0L728.9,1946.2L731.4,1949.3L733.9,1952.5L736.4,1955.6L738.9,1958.8L741.5,1961.9L744.0,1965.1L746.5,1968.2L749.1,1971.4L751.7,1974.5L754.2,1977.6L756.8,1980.7L759.4,1983.8L762.0,1986.9L764.6,1990.0L767.2,1993.1L769.9,1996.2L772.5,1999.2L775.2,2002.3L777.8,2005.3L780.5,2008.3L783.2,2011.4L785.9,2014.4L788.6,2017.3L791.3,2020.3L794.1,2023.3L796.8,2026.2L799.6,2029.2L802.3,2032.1L805.1,2035.0L807.9,2037.9L810.7,2040.7L813.6,2043.6L816.4,2046.4L819.3,2049.2L822.2,2052.0L825.0,2054.8L827.9,2057.6L830.9,2060.3L833.8,2063.1L836.8,2065.8L839.7,2068.4L842.7,2071.1L845.7,2073.7L848.7,2076.3L851.8,2078.9L854.8,2081.5L857.9,2084.0L861.0,2086.6L864.1,2089.1L867.2,2091.5L870.4,2094.0L873.5,2096.4L876.7,2098.8L879.9,2101.2L883.1,2103.5L886.4,2105.8L889.6,2108.1L892.9,2110.4L896.2,2112.7L899.5,2114.9L902.8,2117.1L906.1,2119.3L909.4,2121.5L912.8,2123.6L916.2,2125.7L919.6,2127.8L923.0,2129.9L926.4,2131.9L929.8,2134.0L933.3,2136.0L936.7,2138.0L940.2,2140.0L943.7,2141.9L947.2,2143.9L950.7,2145.8L954.2,2147.7L957.8,2149.5" stroke-width="11.5"/><path d="M957.8,2149.5L961.3,2151.4L964.9,2153.2L968.4,2155.1L972.0,2156.9L975.6,2158.7L979.2,2160.4L982.8,2162.2L986.4,2163.9L990.0,2165.6L993.7,2167.4L997.3,2169.0L1001.0,2170.7L1004.6,2172.4L1008.3,2174.0L1012.0,2175.6L1015.7,2177.3L1019.4,2178.9L1023.1,2180.4L1026.8,2182.0L1030.5,2183.6L1034.2,2185.1L1037.9,2186.6L1041.7,2188.1L1045.4,2189.7L1049.1,2191.1L1052.9,2192.6L1056.6,2194.1L1060.4,2195.5L1064.2,2197.0L1067.9,2198.4L1071.7,2199.8L1075.5,2201.2L1079.2,2202.6L1083.0,2204.0L1086.8,2205.4L1090.6,2206.8L1094.4,2208.1L1098.1,2209.5L1101.9,2210.8L1105.7,2212.2L1109.5,2213.5L1113.3,2214.8L1117.1,2216.1L1120.9,2217.4L1124.7,2218.7L1128.5,2220.0L1132.3,2221.3L1136.2,2222.5L1140.0,2223.8L1143.8,2225.0L1147.6,2226.3L1151.4,2227.5L1155.3,2228.7L1159.1,2230.0L1162.9,2231.2L1166.7,2232.4" stroke-width="11.0"/><path d="M1166.7,2232.4L1170.6,2233.6L1174.4,2234.8L1178.2,2236.0L1182.1,2237.2L1185.9,2238.4L1189.7,2239.6L1193.6,2240.8L1197.4,2241.9L1201.2,2243.1L1205.1,2244.3L1208.9,2245.5L1212.8,2246.6L1216.6,2247.8L1220.5,2248.9L1224.3,2250.1L1228.2,2251.2L1232.0,2252.4L1235.8,2253.5L1239.7,2254.7L1243.5,2255.8L1247.4,2257.0L1251.2,2258.1L1255.1,2259.2L1259.0,2260.4L1262.8,2261.5L1266.7,2262.7L1270.5,2263.8L1274.4,2264.9L1278.2,2266.1L1282.1,2267.2L1285.9,2268.4L1289.8,2269.5L1293.6,2270.6L1297.5,2271.8L1301.3,2272.9L1305.2,2274.1L1309.0,2275.2L1312.9,2276.4L1316.7,2277.5L1320.6,2278.7L1324.4,2279.8L1328.3,2281.0L1332.1,2282.1L1336.0,2283.3L1339.8,2284.5L1343.7,2285.6L1347.5,2286.8L1351.4,2287.9L1355.3,2289.1L1359.1,2290.2L1363.0,2291.4L1366.8,2292.5L1370.7,2293.7L1374.5,2294.8L1378.4,2296.0L1382.2,2297.1L1386.1,2298.3L1389.9,2299.4L1393.8,2300.6L1397.6,2301.7L1401.5,2302.8L1405.4,2304.0L1409.2,2305.1L1413.1,2306.2L1416.9,2307.3L1420.8,2308.5L1424.6,2309.6L1428.5,2310.7L1432.4,2311.8L1436.2,2312.9L1440.1,2314.0L1444.0,2315.1L1447.8,2316.2L1451.7,2317.3L1455.6,2318.4L1459.4,2319.4L1463.3,2320.5L1467.2,2321.6L1471.0,2322.6L1474.9,2323.7L1478.8,2324.7L1482.7,2325.8L1486.5,2326.8L1490.4,2327.9L1494.3,2328.9L1498.2,2329.9L1502.1,2330.9L1506.0,2331.9L1509.8,2332.9L1513.7,2333.9L1517.6,2334.9L1521.5,2335.9L1525.4,2336.8L1529.3,2337.8L1533.2,2338.7L1537.1,2339.7L1541.0,2340.6L1544.9,2341.5L1548.8,2342.5L1552.7,2343.4L1556.6,2344.3L1560.5,2345.2L1564.4,2346.0L1568.3,2346.9L1572.2,2347.8L1576.2,2348.6L1580.1,2349.5L1584.0,2350.3L1587.9,2351.1L1591.8,2351.9L1595.8,2352.7L1599.7,2353.5L1603.6,2354.3L1607.6,2355.0L1611.5,2355.8L1615.4,2356.5L1619.4,2357.3L1623.3,2358.0L1627.3,2358.7L1631.2,2359.4L1635.2,2360.1L1639.1,2360.7" stroke-width="10.5"/><path d="M1639.1,2360.7L1643.1,2361.4L1647.1,2362.0L1651.0,2362.7L1655.0,2363.3L1658.9,2363.9L1662.9,2364.5L1666.9,2365.0L1670.9,2365.6L1674.8,2366.2L1678.8,2366.7L1682.8,2367.2L1686.8,2367.7L1690.8,2368.2L1694.8,2368.7L1698.8,2369.1L1702.8,2369.6L1706.8,2370.0L1710.8,2370.4L1714.8,2370.8L1718.8,2371.2L1722.8,2371.6L1726.9,2371.9L1730.9,2372.2L1734.9,2372.6L1738.9,2372.9L1743.0,2373.1L1747.0,2373.4" stroke-width="10.0"/></g><g fill="none" stroke="#0000FF" stroke-linecap="round" stroke-linejoin="round"><path d="M438.0,1409.5L438.2,1413.5L438.3,1417.5L438.5,1421.5L438.6,1425.5" stroke-width="10.0"/><path d="M438.6,1425.5L438.8,1429.5L438.9,1433.5L439.1,1437.6L439.2,1441.6L439.4,1445.6L439.5,1449.6L439.7,1453.6L439.8,1457.6L439.9,1461.6L440.1,1465.6L440.2,1469.6L440.4,1473.7L440.5,1477.7L440.7,1481.7L440.8,1485.7L441.0,1489.7L441.1,1493.7L441.2,1497.7L441.4,1501.8L441.5,1505.8L441.7,1509.8L441.8,1513.8L442.0,1517.8L442.1,1521.8L442.2,1525.8L442.4,1529.9L442.5,1533.9L442.7,1537.9L442.8,1541.9L443.0,1545.9L443.1,1549.9L443.2,1554.0L443.4,1558.0L443.5,1562.0L443.7,1566.0L443.8,1570.0L444.0,1574.1L444.1,1578.1L444.2,1582.1L444.4,1586.1L444.5,1590.1L444.7,1594.2L444.8,1598.2L445.0,1602.2L445.1,1606.2L445.3,1610.2L445.4,1614.3L445.6,1618.3L445.7,1622.3L445.9,1626.3L446.0,1630.3L446.1,1634.4L446.3,1638.4L446.4,1642.4" stroke-width="9.5"/><path d="M446.4,1642.4L446.6,1646.4L446.8,1650.5L446.9,1654.5L447.1,1658.5L447.2,1662.5L447.4,1666.5L447.5,1670.6L447.7,1674.6L447.8,1678.6L448.0,1682.6L448.2,1686.6L448.3,1690.7L448.5,1694.7L448.6,1698.7L448.8,1702.7L449.0,1706.8L449.1,1710.8L449.3,1714.8L449.5,1718.8L449.6,1722.8L449.8,1726.9L450.0,1730.9L450.1,1734.9L450.3,1738.9L450.5,1742.9L450.7,1747.0L450.8,1751.0L451.0,1755.0L451.2,1759.0L451.4,1763.0L451.6,1767.1L451.7,1771.1L451.9,1775.1L452.1,1779.1L452.3,1783.1L452.5,1787.2L452.7,1791.2L452.9,1795.2L453.1,1799.2L453.3,1803.2L453.5,1807.3L453.6,1811.3L453.8,1815.3L454.0,1819.3L454.3,1823.3L454.5,1827.3L454.7,1831.4L454.9,1835.4L455.1,1839.4L455.3,1843.4L455.5,1847.4L455.7,1851.4L455.9,1855.5L456.2,1859.5L456.4,1863.5L456.6,1867.5L456.8,1871.5L457.1,1875.5L457.3,1879.6L457.5,1883.6L457.7,1887.6L458.0,1891.6L458.2,1895.6L458.5,1899.6L458.7,1903.6L458.9,1907.6L459.2,1911.6L459.4,1915.7L459.7,1919.7L459.9,1923.7L460.2,1927.7L460.4,1931.7L460.7,1935.7L461.0,1939.7L461.2,1943.7L461.5,1947.7L461.8,1951.7L462.0,1955.7L462.3,1959.7L462.6,1963.7L462.9,1967.8L463.1,1971.8L463.4,1975.8L463.7,1979.8L464.0,1983.8L464.3,1987.8L464.6,1991.8L464.9,1995.8L465.2,1999.8L465.5,2003.8L465.8,2007.8L466.1,2011.8L466.4,2015.8L466.7,2019.8L467.0,2023.8L467.4,2027.8L467.7,2031.8L468.0,2035.8L468.3,2039.8L468.7,2043.7L469.0,2047.7L469.3,2051.7L469.7,2055.7L470.0,2059.7L470.4,2063.7L470.7,2067.7L471.1,2071.7L471.4,2075.7L471.8,2079.7L472.1,2083.7L472.5,2087.6L472.9,2091.6L473.3,2095.6L473.6,2099.6L474.0,2103.6L474.4,2107.6L474.8,2111.6L475.2,2115.5L475.6,2119.5L476.0,2123.5L476.4,2127.5L476.8,2131.5L477.2,2135.4L477.6,2139.4L478.1,2143.4L478.5,2147.4L478.9,2151.4L479.4,2155.4L479.9,2159.3L480.4,2163.3L480.8,2167.3L481.3,2171.3L481.9,2175.3L482.4,2179.3L482.9,2183.2L483.5,2187.2L484.0,2191.2L484.6,2195.2L485.2,2199.2L485.8,2203.2L486.4,2207.2L487.0,2211.2L487.7,2215.2L488.3,2219.1" stroke-width="10.0"/><path d="M488.3,2219.1L489.0,2223.1L489.7,2227.1L490.4,2231.1L491.2,2235.1L491.9,2239.1L492.7,2243.1L493.5,2247.2L494.3,2251.2L495.1,2255.2L496.0,2259.2L496.9,2263.2L497.8,2267.2L498.7,2271.2L499.6,2275.3L500.6,2279.3L501.6,2283.3L502.6,2287.3L503.7,2291.4L504.7,2295.4L505.9,2299.3L507.0,2303.3L508.3,2307.2" stroke-width="10.5"/><path d="M508.3,2307.2L509.6,2311.1L510.9,2314.9L512.3,2318.7L513.8,2322.5L515.4,2326.1L517.0,2329.8L518.7,2333.3L520.5,2336.7" stroke-width="11.0"/><path d="M520.5,2336.7L522.5,2340.1L524.5,2343.4L526.6,2346.6L528.8,2349.6L531.1,2352.6L533.6,2355.5L536.2,2358.2L538.9,2360.8L541.7,2363.3L544.6,2365.7L547.7,2367.9L550.8,2370.1L554.1,2372.1L557.4,2374.0L560.8,2375.9" stroke-width="11.5"/><path d="M560.8,2375.9L564.3,2377.6L567.8,2379.3L571.4,2380.8L575.1,2382.3L578.9,2383.6L582.6,2384.9L586.5,2386.2" stroke-width="11.0"/><path d="M586.5,2386.2L590.3,2387.3L594.2,2388.3L598.2,2389.3L602.1,2390.3L606.1,2391.1L610.0,2391.9L614.0,2392.6L618.0,2393.3" stroke-width="10.5"/><path d="M618.0,2393.3L622.0,2393.9L626.0,2394.5L630.0,2395.0L634.0,2395.5L638.0,2395.9L642.0,2396.3L646.0,2396.6L650.0,2396.9L654.0,2397.1L658.1,2397.3L662.1,2397.5" stroke-width="10.0"/><path d="M662.1,2397.5L666.1,2397.6L670.2,2397.7L674.2,2397.8L678.3,2397.8L682.3,2397.8L686.4,2397.8L690.4,2397.8L694.5,2397.7L698.5,2397.6L702.6,2397.5L706.6,2397.4L710.7,2397.3L714.7,2397.1L718.8,2397.0" stroke-width="9.5"/><path d="M718.8,2397.0L722.8,2396.8L726.9,2396.7L730.9,2396.5L735.0,2396.3L739.0,2396.1L743.1,2396.0L747.1,2395.8L751.2,2395.6L755.2,2395.5" stroke-width="10.0"/><path d="M755.2,2395.5L759.3,2395.3L763.3,2395.2L767.3,2395.0L771.4,2394.9L775.4,2394.8L779.4,2394.8L783.5,2394.7L787.5,2394.7L791.5,2394.6L795.5,2394.6L799.5,2394.6L803.5,2394.7L807.5,2394.7L811.5,2394.7L815.5,2394.8L819.5,2394.9L823.5,2395.0L827.5,2395.0L831.5,2395.1L835.5,2395.2L839.5,2395.3L843.5,2395.5L847.5,2395.6L851.5,2395.7L855.5,2395.8L859.5,2395.9L863.5,2396.0L867.5,2396.1L871.5,2396.3L875.5,2396.4L879.5,2396.5L883.5,2396.6L887.5,2396.7L891.5,2396.7L895.5,2396.8L899.5,2396.9L903.5,2396.9L907.5,2397.0L911.5,2397.0L915.5,2397.0L919.5,2397.0L923.6,2397.0L927.6,2397.0L931.6,2396.9L935.7,2396.9L939.7,2396.8L943.8,2396.7L947.8,2396.5" stroke-width="9.5"/><path d="M947.8,2396.5L951.9,2396.4L955.9,2396.2L960.0,2396.0" stroke-width="10.0"/></g><g fill="none" stroke="#FF0000" stroke-linecap="round" stroke-linejoin="round"><path d="M438.0,1409.5L438.5,1413.5L439.0,1417.5L439.5,1421.5L440.0,1425.5L440.5,1429.5L441.0,1433.5L441.5,1437.5L442.0,1441.5L442.6,1445.5L443.1,1449.5L443.6,1453.5L444.1,1457.5L444.6,1461.5L445.2,1465.4L445.7,1469.4L446.2,1473.4L446.8,1477.4L447.3,1481.4L447.8,1485.4L448.4,1489.4L448.9,1493.4L449.5,1497.4L450.0,1501.4L450.6,1505.4L451.1,1509.3L451.7,1513.3L452.2,1517.3L452.8,1521.3L453.4,1525.3L453.9,1529.3L454.5,1533.3L455.1,1537.2L455.7,1541.2L456.2,1545.2L456.8,1549.2L457.4,1553.2L458.0,1557.2L458.6,1561.1L459.2,1565.1L459.8,1569.1L460.4,1573.1L461.0,1577.1L461.6,1581.0L462.2,1585.0L462.9,1589.0L463.5,1593.0L464.1,1596.9L464.8,1600.9L465.4,1604.9L466.0,1608.8L466.7,1612.8L467.3,1616.8L468.0,1620.7L468.6,1624.7L469.3,1628.7" stroke-width="10.0"/><path d="M469.3,1628.7L469.9,1632.6L470.6,1636.6L471.3,1640.6L472.0,1644.5L472.6,1648.5L473.3,1652.5L474.0,1656.4L474.7,1660.4L475.4,1664.3L476.1,1668.3L476.8,1672.2L477.5,1676.2L478.2,1680.2L479.0,1684.1L479.7,1688.1L480.4,1692.0L481.1,1696.0L481.9,1699.9L482.6,1703.9L483.4,1707.8L484.1,1711.7L484.9,1715.7L485.7,1719.6L486.4,1723.6L487.2,1727.5L488.0,1731.5L488.8,1735.4L489.6,1739.3L490.4,1743.3L491.2,1747.2L492.0,1751.1L492.8,1755.1L493.6,1759.0L494.4,1762.9L495.2,1766.8L496.1,1770.8L496.9,1774.7L497.8,1778.6L498.6,1782.5L499.5,1786.5L500.3,1790.4L501.2,1794.3L502.1,1798.2L503.0,1802.1L503.8,1806.1L504.7,1810.0L505.6,1813.9L506.5,1817.8L507.4,1821.7L508.4,1825.6L509.3,1829.5L510.2,1833.4L511.2,1837.3L512.1,1841.2L513.0,1845.1L514.0,1849.0L515.0,1852.9L515.9,1856.8L516.9,1860.7L517.9,1864.6L518.9,1868.5L519.9,1872.4L520.9,1876.3L521.9,1880.2L522.9,1884.0L523.9,1887.9L524.9,1891.8L526.0,1895.7L527.0,1899.6L528.1,1903.4L529.1,1907.3L530.2,1911.2L531.3,1915.1L532.3,1918.9L533.4,1922.8L534.5,1926.7L535.6,1930.5L536.7,1934.4L537.8,1938.2L539.0,1942.1L540.1,1946.0L541.2,1949.8L542.4,1953.7L543.5,1957.5L544.7,1961.4L545.9,1965.2L547.0,1969.1L548.2,1972.9L549.4,1976.8L550.6,1980.6L551.8,1984.4" stroke-width="10.5"/><path d="M551.8,1984.4L553.0,1988.3L554.2,1992.1L555.5,1995.9L556.7,1999.8L558.0,2003.6L559.2,2007.4L560.5,2011.3L561.8,2015.1L563.0,2018.9L564.3,2022.7L565.6,2026.5L566.9,2030.3L568.2,2034.2L569.6,2038.0L570.9,2041.8L572.2,2045.6L573.6,2049.4L575.0,2053.2L576.3,2056.9L577.7,2060.7L579.1,2064.5L580.5,2068.3L581.9,2072.1L583.4,2075.8L584.8,2079.6L586.2,2083.3L587.7,2087.1L589.2,2090.8L590.7,2094.6L592.2,2098.3L593.7,2102.0L595.2,2105.7L596.7,2109.4L598.3,2113.1L599.9,2116.8L601.4,2120.5L603.0,2124.2L604.6,2127.8L606.2,2131.5L607.9,2135.2L609.5,2138.8L611.2,2142.4L612.8,2146.1L614.5,2149.7L616.2,2153.3L618.0,2156.9L619.7,2160.4L621.5,2164.0L623.2,2167.6L625.0,2171.1L626.8,2174.7L628.7,2178.2" stroke-width="11.0"/><path d="M628.7,2178.2L630.5,2181.7L632.4,2185.2L634.3,2188.6L636.2,2192.1L638.2,2195.5L640.2,2198.9L642.2,2202.3L644.3,2205.6L646.3,2208.9L648.5,2212.2L650.6,2215.5L652.8,2218.8L655.1,2222.0L657.4,2225.1L659.7,2228.3L662.0,2231.4L664.4,2234.5L666.9,2237.6L669.3,2240.6L671.9,2243.6L674.4,2246.6L677.0,2249.5L679.6,2252.4L682.3,2255.3L685.0,2258.1L687.8,2260.9L690.6,2263.7L693.4,2266.5L696.3,2269.2L699.2,2271.9L702.1,2274.6L705.1,2277.2L708.1,2279.8L711.1,2282.3L714.2,2284.9L717.3,2287.4L720.5,2289.9L723.7,2292.3L726.9,2294.7L730.1,2297.1L733.4,2299.5L736.7,2301.8L740.0,2304.1L743.4,2306.4L746.7,2308.6L750.1,2310.8L753.6,2313.0L757.0,2315.2L760.5,2317.3L764.0,2319.4L767.5,2321.4L771.0,2323.5L774.6,2325.5L778.2,2327.5L781.7,2329.4L785.4,2331.3" stroke-width="11.5"/><path d="M785.4,2331.3L789.0,2333.2L792.6,2335.1L796.3,2337.0L799.9,2338.8L803.6,2340.6L807.3,2342.3L811.0,2344.1L814.7,2345.8L818.4,2347.4L822.1,2349.1L825.9,2350.7L829.6,2352.3L833.3,2353.9L837.1,2355.4L840.8,2357.0L844.6,2358.4L848.4,2359.9L852.1,2361.3L855.9,2362.7L859.7,2364.0L863.5,2365.3L867.3,2366.6L871.1,2367.8" stroke-width="11.0"/><path d="M871.1,2367.8L874.9,2369.0L878.7,2370.1L882.5,2371.2L886.4,2372.3L890.2,2373.3L894.1,2374.2L897.9,2375.1L901.8,2375.9L905.7,2376.7L909.6,2377.4L913.5,2378.1" stroke-width="10.5"/><path d="M913.5,2378.1L917.4,2378.7L921.3,2379.2L925.2,2379.7L929.1,2380.1L933.1,2380.4L937.0,2380.7L941.0,2380.9" stroke-width="10.0"/><path d="M941.0,2380.9L945.0,2381.0L948.9,2381.1L952.9,2381.0L956.9,2380.9" stroke-width="9.5"/><path d="M956.9,2380.9L961.0,2380.8L965.0,2380.5" stroke-width="10.0"/></g></g>
<path d="M440.0,1385.9L462.6,1408.5L440.0,1431.1L417.4,1408.5Z" fill="none" stroke="#000000" stroke-width="5.5" stroke-linejoin="bevel"/>
<path d="M445.0,1399.9L467.6,1422.5L445.0,1445.1L422.4,1422.5Z" fill="none" stroke="#000000" stroke-width="5.5" stroke-linejoin="bevel"/>
<path d="M454.4,1422.4L477.0,1445.0L454.4,1467.6L431.8,1445.0Z" fill="none" stroke="#000000" stroke-width="5.5" stroke-linejoin="bevel"/>
<path d="M467.0,1466.4L489.6,1489.0L467.0,1511.6L444.4,1489.0Z" fill="none" stroke="#000000" stroke-width="5.5" stroke-linejoin="bevel"/>
<path d="M481.0,1485.8L503.6,1508.4L481.0,1531.0L458.4,1508.4Z" fill="none" stroke="#000000" stroke-width="5.5" stroke-linejoin="bevel"/>
<path d="M526.2,1562.5L548.8,1585.1L526.2,1607.7L503.6,1585.1Z" fill="none" stroke="#000000" stroke-width="5.5" stroke-linejoin="bevel"/>
<path d="M613.0,1747.9L635.6,1770.5L613.0,1793.1L590.4,1770.5Z" fill="none" stroke="#000000" stroke-width="5.5" stroke-linejoin="bevel"/>
<path d="M722.2,1894.0L744.8,1916.6L722.2,1939.2L699.6,1916.6Z" fill="none" stroke="#000000" stroke-width="5.5" stroke-linejoin="bevel"/>
<path d="M962.9,2139.6L985.5,2162.2L962.9,2184.8L940.3,2162.2Z" fill="none" stroke="#000000" stroke-width="5.5" stroke-linejoin="bevel"/>
<path d="M1545.2,2317.2L1567.8,2339.8L1545.2,2362.4L1522.6,2339.8Z" fill="none" stroke="#000000" stroke-width="5.5" stroke-linejoin="bevel"/>
<path d="M1749.5,2357.4L1772.1,2380.0L1749.5,2402.6L1726.9,2380.0Z" fill="none" stroke="#000000" stroke-width="5.5" stroke-linejoin="bevel"/>
<path d="M440.0,1385.9L462.6,1431.1L417.4,1431.1Z" fill="none" stroke="#FF0000" stroke-width="5.8" stroke-linejoin="round"/>
<path d="M445.0,1453.6L467.6,1498.8L422.4,1498.8Z" fill="none" stroke="#FF0000" stroke-width="5.8" stroke-linejoin="round"/>
<path d="M453.8,1512.8L476.4,1558.0L431.2,1558.0Z" fill="none" stroke="#FF0000" stroke-width="5.8" stroke-linejoin="round"/>
<path d="M467.3,1581.0L489.9,1626.2L444.7,1626.2Z" fill="none" stroke="#FF0000" stroke-width="5.8" stroke-linejoin="round"/>
<path d="M481.3,1676.0L503.9,1721.2L458.7,1721.2Z" fill="none" stroke="#FF0000" stroke-width="5.8" stroke-linejoin="round"/>
<path d="M526.2,1866.8L548.8,1912.0L503.6,1912.0Z" fill="none" stroke="#FF0000" stroke-width="5.8" stroke-linejoin="round"/>
<path d="M613.0,2129.8L635.6,2175.0L590.4,2175.0Z" fill="none" stroke="#FF0000" stroke-width="5.8" stroke-linejoin="round"/>
<path d="M699.0,2256.7L721.6,2301.9L676.4,2301.9Z" fill="none" stroke="#FF0000" stroke-width="5.8" stroke-linejoin="round"/>
<path d="M876.4,2357.5L899.0,2402.7L853.8,2402.7Z" fill="none" stroke="#FF0000" stroke-width="5.8" stroke-linejoin="round"/>
<path d="M962.9,2369.9L985.5,2415.1L940.3,2415.1Z" fill="none" stroke="#FF0000" stroke-width="5.8" stroke-linejoin="round"/>
<circle cx="436.0" cy="1404.0" r="18.0" fill="none" stroke="#0000FF" stroke-width="6.0"/>
<circle cx="435.8" cy="1553.9" r="18.0" fill="none" stroke="#0000FF" stroke-width="6.0"/>
<circle cx="440.3" cy="1603.6" r="18.0" fill="none" stroke="#0000FF" stroke-width="6.0"/>
<circle cx="444.9" cy="1694.7" r="18.0" fill="none" stroke="#0000FF" stroke-width="6.0"/>
<circle cx="449.9" cy="1803.8" r="18.0" fill="none" stroke="#0000FF" stroke-width="6.0"/>
<circle cx="463.0" cy="2021.3" r="18.0" fill="none" stroke="#0000FF" stroke-width="6.0"/>
<circle cx="476.5" cy="2193.9" r="18.0" fill="none" stroke="#0000FF" stroke-width="6.0"/>
<circle cx="522.0" cy="2339.6" r="18.0" fill="none" stroke="#0000FF" stroke-width="6.0"/>
<circle cx="609.4" cy="2370.0" r="18.0" fill="none" stroke="#0000FF" stroke-width="6.0"/>
<circle cx="694.9" cy="2379.9" r="18.0" fill="none" stroke="#0000FF" stroke-width="6.0"/>
<circle cx="785.6" cy="2384.5" r="18.0" fill="none" stroke="#0000FF" stroke-width="6.0"/>
<circle cx="958.3" cy="2389.3" r="18.0" fill="none" stroke="#0000FF" stroke-width="6.0"/>
<text x="379.6" y="2418.5" font-size="76" textLength="91.7" lengthAdjust="spacingAndGlyphs" text-anchor="end">0.0</text>
<text x="379.6" y="2221.5" font-size="76" textLength="91.7" lengthAdjust="spacingAndGlyphs" text-anchor="end">0.2</text>
<text x="379.6" y="2024.5" font-size="76" textLength="91.7" lengthAdjust="spacingAndGlyphs" text-anchor="end">0.4</text>
<text x="379.6" y="1827.5" font-size="76" textLength="91.7" lengthAdjust="spacingAndGlyphs" text-anchor="end">0.6</text>
<text x="379.6" y="1630.5" font-size="76" textLength="91.7" lengthAdjust="spacingAndGlyphs" text-anchor="end">0.8</text>
<text x="379.6" y="1433.5" font-size="76" textLength="91.7" lengthAdjust="spacingAndGlyphs" text-anchor="end">1.0</text>
<text x="441.0" y="2504" font-size="76" textLength="36.7" lengthAdjust="spacingAndGlyphs" text-anchor="middle">0</text>
<text x="659.2" y="2504" font-size="76" textLength="110.0" lengthAdjust="spacingAndGlyphs" text-anchor="middle">150</text>
<text x="877.3" y="2504" font-size="76" textLength="110.0" lengthAdjust="spacingAndGlyphs" text-anchor="middle">300</text>
<text x="1095.5" y="2504" font-size="76" textLength="110.0" lengthAdjust="spacingAndGlyphs" text-anchor="middle">450</text>
<text x="1313.7" y="2504" font-size="76" textLength="110.0" lengthAdjust="spacingAndGlyphs" text-anchor="middle">600</text>
<text x="1531.8" y="2504" font-size="76" textLength="110.0" lengthAdjust="spacingAndGlyphs" text-anchor="middle">750</text>
<text x="1750.0" y="2504" font-size="76" textLength="110.0" lengthAdjust="spacingAndGlyphs" text-anchor="middle">900</text>
<text x="945.6" y="1602" font-size="74" font-weight="bold" textLength="295.9" lengthAdjust="spacingAndGlyphs" text-anchor="start">CFNS200</text>
<text x="1003.0" y="2600.8" font-size="79" font-weight="bold" textLength="22.9" lengthAdjust="spacingAndGlyphs" text-anchor="start">t</text>
<text x="1042.1" y="2600.8" font-size="72" font-weight="bold" textLength="26.8" lengthAdjust="spacingAndGlyphs" text-anchor="start">(</text>
<text x="1067.3" y="2600.8" font-size="74" font-weight="bold" textLength="109.6" lengthAdjust="spacingAndGlyphs" text-anchor="start">min</text>
<text x="1173.5" y="2600.8" font-size="72" font-weight="bold" textLength="26.4" lengthAdjust="spacingAndGlyphs" text-anchor="start">)</text>
<text x="123.9" y="2302.0" font-size="74" font-weight="bold" textLength="304.9" lengthAdjust="spacingAndGlyphs" transform="rotate(-90 123.9 2302.0)">Normalize</text>
<text x="123.9" y="1993.9" font-size="74" font-weight="bold" textLength="39.3" lengthAdjust="spacingAndGlyphs" transform="rotate(-90 123.9 1993.9)">d</text>
<text x="123.9" y="1919.8" font-size="74" font-weight="bold" textLength="167.6" lengthAdjust="spacingAndGlyphs" transform="rotate(-90 123.9 1919.8)">conce</text>
<text x="123.9" y="1746.8" font-size="74" font-weight="bold" textLength="237.5" lengthAdjust="spacingAndGlyphs" transform="rotate(-90 123.9 1746.8)">ntration</text>
<text x="205.3" y="2060.8" font-size="74" font-weight="bold" textLength="66.1" lengthAdjust="spacingAndGlyphs" transform="rotate(-90 205.3 2060.8)">of</text>
<text x="205.3" y="1982.1" font-size="74" font-weight="bold" textLength="103.0" lengthAdjust="spacingAndGlyphs" transform="rotate(-90 205.3 1982.1)">phe</text>
<text x="205.3" y="1873.7" font-size="74" font-weight="bold" textLength="116.0" lengthAdjust="spacingAndGlyphs" transform="rotate(-90 205.3 1873.7)">nols</text>
<line x1="429" y1="2775.5" x2="429" y2="3786" stroke="#000" stroke-width="10"/>
<line x1="424" y1="3768" x2="1739" y2="3768" stroke="#000" stroke-width="10"/>
<line x1="406" y1="3768.0" x2="429" y2="3768.0" stroke="#000" stroke-width="10"/>
<line x1="406" y1="3570.5" x2="429" y2="3570.5" stroke="#000" stroke-width="10"/>
<line x1="406" y1="3373.0" x2="429" y2="3373.0" stroke="#000" stroke-width="10"/>
<line x1="406" y1="3175.5" x2="429" y2="3175.5" stroke="#000" stroke-width="10"/>
<line x1="406" y1="2978.0" x2="429" y2="2978.0" stroke="#000" stroke-width="10"/>
<line x1="406" y1="2780.5" x2="429" y2="2780.5" stroke="#000" stroke-width="10"/>
<line x1="429.0" y1="3768" x2="429.0" y2="3786" stroke="#000" stroke-width="10"/>
<line x1="616.0" y1="3768" x2="616.0" y2="3786" stroke="#000" stroke-width="10"/>
<line x1="803.0" y1="3768" x2="803.0" y2="3786" stroke="#000" stroke-width="10"/>
<line x1="990.0" y1="3768" x2="990.0" y2="3786" stroke="#000" stroke-width="10"/>
<line x1="1177.0" y1="3768" x2="1177.0" y2="3786" stroke="#000" stroke-width="10"/>
<line x1="1364.0" y1="3768" x2="1364.0" y2="3786" stroke="#000" stroke-width="10"/>
<line x1="1551.0" y1="3768" x2="1551.0" y2="3786" stroke="#000" stroke-width="10"/>
<line x1="1738.0" y1="3768" x2="1738.0" y2="3786" stroke="#000" stroke-width="10"/>
<g clip-path="url(#pa2)"><g fill="none" stroke="#000000" stroke-linecap="round" stroke-linejoin="round"><path d="M429.0,2780.5L430.7,2784.1L432.3,2787.8L434.0,2791.4L435.7,2795.0L437.5,2798.7L439.2,2802.3L440.9,2805.9L442.7,2809.5L444.4,2813.1L446.2,2816.7L448.0,2820.3L449.8,2823.9L451.6,2827.4L453.4,2831.0L455.2,2834.6L457.0,2838.1L458.8,2841.7L460.7,2845.2L462.6,2848.8" stroke-width="11.0"/><path d="M462.6,2848.8L464.4,2852.3L466.3,2855.8L468.2,2859.4L470.1,2862.9L472.0,2866.4L473.9,2869.9L475.8,2873.4L477.8,2876.9L479.7,2880.4L481.6,2883.9L483.6,2887.4L485.6,2890.9L487.6,2894.4L489.5,2897.8L491.5,2901.3L493.5,2904.8L495.6,2908.2L497.6,2911.7L499.6,2915.1L501.7,2918.6L503.7,2922.0L505.8,2925.4L507.8,2928.8L509.9,2932.3L512.0,2935.7L514.1,2939.1L516.2,2942.5L518.3,2945.9L520.4,2949.3L522.5,2952.7L524.6,2956.1L526.8,2959.5L528.9,2962.9L531.1,2966.2L533.2,2969.6L535.4,2973.0L537.6,2976.4L539.7,2979.7L541.9,2983.1L544.1,2986.4L546.3,2989.8L548.5,2993.1L550.7,2996.5L553.0,2999.8L555.2,3003.1L557.4,3006.5L559.7,3009.8L561.9,3013.1L564.2,3016.4L566.4,3019.7L568.7,3023.0L571.0,3026.3L573.3,3029.6L575.6,3032.9L577.9,3036.2L580.2,3039.5L582.5,3042.8L584.8,3046.1L587.1,3049.4L589.4,3052.6L591.7,3055.9L594.1,3059.2L596.4,3062.4L598.8,3065.7L601.1,3069.0L603.5,3072.2L605.8,3075.5L608.2,3078.7L610.6,3082.0L613.0,3085.2L615.4,3088.4L617.7,3091.7L620.1,3094.9L622.5,3098.1L624.9,3101.4L627.4,3104.6L629.8,3107.8L632.2,3111.0L634.6,3114.2L637.0,3117.4L639.5,3120.6L641.9,3123.8L644.3,3127.0L646.8,3130.2L649.2,3133.4L651.7,3136.6L654.2,3139.8L656.6,3143.0L659.1,3146.2L661.6,3149.3L664.1,3152.5L666.6,3155.6L669.1,3158.8L671.6,3161.9L674.1,3165.1L676.6,3168.2L679.1,3171.3L681.7,3174.5L684.2,3177.6L686.8,3180.7L689.3,3183.8L691.9,3186.9L694.5,3190.0L697.0,3193.0L699.6,3196.1L702.2,3199.2L704.8,3202.2L707.4,3205.2L710.1,3208.3L712.7,3211.3L715.3,3214.3L718.0,3217.3L720.7,3220.3L723.3,3223.3L726.0,3226.2L728.7,3229.2L731.4,3232.2L734.1,3235.1L736.8,3238.0L739.6,3240.9L742.3,3243.8L745.1,3246.7L747.8,3249.6L750.6,3252.5L753.4,3255.3L756.2,3258.1L759.0,3261.0L761.8,3263.8L764.7,3266.6L767.5,3269.4L770.4,3272.1L773.2,3274.9L776.1,3277.6L779.0,3280.4L781.9,3283.1L784.8,3285.8L787.8,3288.5L790.7,3291.2L793.7,3293.8L796.6,3296.5L799.6,3299.1L802.6,3301.8L805.6,3304.4L808.6,3307.0L811.6,3309.6L814.6,3312.2L817.6,3314.8L820.6,3317.4L823.7,3319.9L826.7,3322.5L829.8,3325.1L832.8,3327.6L835.9,3330.2L839.0,3332.7L842.0,3335.2L845.1,3337.8L848.2,3340.3L851.3,3342.8L854.4,3345.3L857.5,3347.8L860.6,3350.3L863.7,3352.8L866.9,3355.3L870.0,3357.8L873.1,3360.3L876.2,3362.8L879.4,3365.3L882.5,3367.8L885.6,3370.3L888.8,3372.8L891.9,3375.3L895.0,3377.7L898.2,3380.2L901.3,3382.7L904.5,3385.2L907.6,3387.7L910.8,3390.2L913.9,3392.7L917.1,3395.2L920.2,3397.7L923.3,3400.2L926.5,3402.7L929.6,3405.2L932.8,3407.7L935.9,3410.2L939.0,3412.8L942.2,3415.3L945.3,3417.8L948.5,3420.3L951.6,3422.9L954.7,3425.4L957.9,3427.9L961.0,3430.5L964.1,3433.0L967.3,3435.5L970.4,3438.1L973.6,3440.6L976.7,3443.1L979.8,3445.7L983.0,3448.2L986.1,3450.8L989.3,3453.3L992.4,3455.8L995.6,3458.4L998.7,3460.9L1001.8,3463.4L1005.0,3466.0L1008.1,3468.5L1011.3,3471.0L1014.5,3473.5L1017.6,3476.0L1020.8,3478.6L1023.9,3481.1L1027.1,3483.6L1030.3,3486.1L1033.4,3488.6L1036.6,3491.1L1039.8,3493.6L1042.9,3496.1L1046.1,3498.6L1049.3,3501.1L1052.5,3503.5L1055.7,3506.0L1058.9,3508.5L1062.0,3511.0L1065.2,3513.4L1068.4,3515.9L1071.6,3518.3L1074.8,3520.7L1078.1,3523.2L1081.3,3525.6L1084.5,3528.0L1087.7,3530.4L1090.9,3532.8L1094.2,3535.2L1097.4,3537.6L1100.6,3540.0L1103.9,3542.4L1107.1,3544.7L1110.4,3547.1L1113.7,3549.4L1116.9,3551.8L1120.2,3554.1L1123.5,3556.4L1126.7,3558.7L1130.0,3561.0L1133.3,3563.3L1136.6,3565.6L1139.9,3567.9L1143.2,3570.1L1146.5,3572.4L1149.9,3574.6L1153.2,3576.8L1156.5,3579.1L1159.9,3581.3L1163.2,3583.5L1166.5,3585.6L1169.9,3587.8L1173.3,3589.9L1176.6,3592.1L1180.0,3594.2L1183.4,3596.3L1186.8,3598.4L1190.2,3600.5L1193.6,3602.6L1197.0,3604.6L1200.4,3606.7L1203.9,3608.7L1207.3,3610.7L1210.7,3612.7L1214.2,3614.7L1217.7,3616.7L1221.1,3618.6L1224.6,3620.6L1228.1,3622.5L1231.6,3624.4L1235.1,3626.3L1238.6,3628.2L1242.1,3630.0" stroke-width="11.5"/><path d="M1242.1,3630.0L1245.6,3631.9L1249.2,3633.7L1252.7,3635.5L1256.3,3637.3L1259.8,3639.0L1263.4,3640.8L1267.0,3642.5L1270.6,3644.2L1274.2,3645.9L1277.8,3647.6L1281.4,3649.3L1285.1,3650.9L1288.7,3652.5L1292.3,3654.1L1296.0,3655.7L1299.7,3657.3L1303.3,3658.8L1307.0,3660.4L1310.7,3661.9L1314.4,3663.4L1318.1,3664.8L1321.8,3666.3L1325.6,3667.7L1329.3,3669.2L1333.0,3670.6L1336.8,3672.0L1340.5,3673.3L1344.3,3674.7L1348.1,3676.0L1351.8,3677.3L1355.6,3678.6L1359.4,3679.9L1363.2,3681.2L1367.0,3682.4L1370.8,3683.7L1374.6,3684.9" stroke-width="11.0"/><path d="M1374.6,3684.9L1378.5,3686.1L1382.3,3687.3L1386.1,3688.4L1390.0,3689.6L1393.8,3690.7L1397.7,3691.8L1401.5,3692.9L1405.4,3694.0L1409.3,3695.1L1413.1,3696.1L1417.0,3697.2L1420.9,3698.2L1424.8,3699.2L1428.7,3700.2L1432.6,3701.1L1436.5,3702.1L1440.4,3703.0L1444.3,3704.0L1448.2,3704.9L1452.1,3705.8L1456.1,3706.6L1460.0,3707.5L1463.9,3708.3L1467.9,3709.2L1471.8,3710.0L1475.7,3710.8L1479.7,3711.6L1483.6,3712.3L1487.6,3713.1L1491.6,3713.8L1495.5,3714.6L1499.5,3715.3L1503.4,3716.0L1507.4,3716.7L1511.4,3717.4L1515.3,3718.1L1519.3,3718.7L1523.3,3719.4" stroke-width="10.5"/><path d="M1523.3,3719.4L1527.2,3720.1L1531.2,3720.7L1535.2,3721.4L1539.1,3722.0L1543.1,3722.6L1547.1,3723.3L1551.1,3723.9L1555.0,3724.5L1559.0,3725.2L1563.0,3725.8L1567.0,3726.4L1570.9,3727.0L1574.9,3727.7L1578.9,3728.3L1582.8,3728.9L1586.8,3729.6L1590.8,3730.2L1594.7,3730.8L1598.7,3731.5L1602.6,3732.1L1606.6,3732.8" stroke-width="10.0"/><path d="M1606.6,3732.8L1610.6,3733.5L1614.5,3734.1L1618.4,3734.8L1622.4,3735.5L1626.3,3736.2L1630.3,3736.9L1634.2,3737.7L1638.1,3738.4L1642.1,3739.1L1646.0,3739.9L1649.9,3740.7L1653.8,3741.5L1657.7,3742.3L1661.6,3743.1L1665.5,3743.9L1669.4,3744.8" stroke-width="10.5"/></g><g fill="none" stroke="#0000FF" stroke-linecap="round" stroke-linejoin="round"><path d="M429.0,2780.5L429.4,2784.5L429.7,2788.5L430.1,2792.5L430.5,2796.5L430.8,2800.5L431.2,2804.5L431.6,2808.5L431.9,2812.5L432.3,2816.5L432.6,2820.5L433.0,2824.5L433.4,2828.5L433.7,2832.4L434.1,2836.4L434.5,2840.4L434.8,2844.4L435.2,2848.4L435.5,2852.4L435.9,2856.4L436.3,2860.4L436.6,2864.4L437.0,2868.4L437.4,2872.4L437.7,2876.4L438.1,2880.4L438.5,2884.4L438.8,2888.4L439.2,2892.4L439.6,2896.4L439.9,2900.4L440.3,2904.4L440.7,2908.4L441.1,2912.4L441.4,2916.4L441.8,2920.4L442.2,2924.4L442.6,2928.4L443.0,2932.4L443.3,2936.3L443.7,2940.3L444.1,2944.3L444.5,2948.3L444.9,2952.3L445.3,2956.3L445.7,2960.3L446.1,2964.3L446.5,2968.3L446.9,2972.3L447.3,2976.3L447.7,2980.3L448.1,2984.3L448.5,2988.3L448.9,2992.3L449.3,2996.2L449.8,3000.2L450.2,3004.2L450.6,3008.2L451.0,3012.2L451.5,3016.2L451.9,3020.2L452.3,3024.2L452.8,3028.2L453.2,3032.2L453.7,3036.1L454.1,3040.1L454.6,3044.1L455.0,3048.1L455.5,3052.1L456.0,3056.1L456.4,3060.1L456.9,3064.0L457.4,3068.0L457.9,3072.0L458.3,3076.0L458.8,3080.0L459.3,3084.0L459.8,3087.9L460.3,3091.9L460.8,3095.9L461.3,3099.9L461.9,3103.9L462.4,3107.9L462.9,3111.8L463.4,3115.8L464.0,3119.8L464.5,3123.8L465.0,3127.7L465.6,3131.7L466.1,3135.7L466.7,3139.7L467.3,3143.6L467.8,3147.6L468.4,3151.6L469.0,3155.6L469.6,3159.5L470.2,3163.5L470.8,3167.5L471.4,3171.4L472.0,3175.4L472.6,3179.4L473.2,3183.3L473.8,3187.3L474.5,3191.3L475.1,3195.2L475.7,3199.2L476.4,3203.2L477.0,3207.1L477.7,3211.1" stroke-width="10.0"/><path d="M477.7,3211.1L478.4,3215.1L479.0,3219.0L479.7,3223.0L480.4,3226.9L481.1,3230.9L481.8,3234.9L482.5,3238.8L483.2,3242.8L483.9,3246.7L484.6,3250.7L485.3,3254.6L486.0,3258.6L486.7,3262.5L487.5,3266.5L488.2,3270.4L488.9,3274.4L489.7,3278.3L490.4,3282.3L491.2,3286.2L491.9,3290.1L492.7,3294.1L493.5,3298.0L494.2,3302.0L495.0,3305.9L495.8,3309.8L496.6,3313.8L497.4,3317.7L498.1,3321.6L498.9,3325.6L499.7,3329.5L500.5,3333.4L501.3,3337.4L502.1,3341.3L503.0,3345.2L503.8,3349.1L504.6,3353.0L505.4,3357.0L506.2,3360.9L507.1,3364.8L507.9,3368.7L508.7,3372.6L509.6,3376.6L510.4,3380.5L511.3,3384.4L512.1,3388.3L513.0,3392.2L513.8,3396.1L514.7,3400.0L515.6,3403.9L516.4,3407.8L517.3,3411.7L518.2,3415.6L519.1,3419.5L520.0,3423.4L520.9,3427.3L521.9,3431.1L522.8,3435.0L523.7,3438.9L524.7,3442.8L525.7,3446.7L526.6,3450.5L527.6,3454.4L528.6,3458.3L529.6,3462.1L530.7,3466.0L531.7,3469.9L532.8,3473.7L533.8,3477.6L534.9,3481.4L536.0,3485.3L537.1,3489.1L538.3,3492.9L539.4,3496.8L540.6,3500.6L541.8,3504.4L543.0,3508.3" stroke-width="10.5"/><path d="M543.0,3508.3L544.2,3512.1L545.4,3515.9L546.7,3519.7L548.0,3523.5L549.3,3527.3L550.6,3531.1L551.9,3534.9L553.3,3538.7L554.7,3542.5L556.1,3546.3L557.5,3550.1L559.0,3553.8L560.5,3557.6L562.0,3561.4L563.5,3565.1L565.1,3568.9L566.6,3572.6L568.3,3576.3L569.9,3580.1L571.6,3583.8L573.3,3587.5L575.0,3591.2L576.8,3594.8L578.6,3598.5L580.4,3602.1L582.3,3605.8L584.2,3609.4" stroke-width="11.0"/><path d="M584.2,3609.4L586.1,3612.9L588.1,3616.5L590.1,3620.0L592.1,3623.5L594.2,3627.0L596.3,3630.5L598.5,3633.9L600.7,3637.3L602.9,3640.7L605.2,3644.0L607.5,3647.3L609.9,3650.6L612.3,3653.9L614.7,3657.1L617.2,3660.2L619.8,3663.4L622.4,3666.5L625.0,3669.5L627.6,3672.5L630.3,3675.5L633.1,3678.4L635.9,3681.2L638.7,3684.1L641.6,3686.8L644.5,3689.5L647.4,3692.2L650.4,3694.8L653.4,3697.3L656.5,3699.8L659.5,3702.2L662.7,3704.6L665.8,3706.8L669.0,3709.1L672.3,3711.2L675.6,3713.3L678.9,3715.3L682.2,3717.3L685.6,3719.2L689.0,3721.0" stroke-width="11.5"/><path d="M689.0,3721.0L692.5,3722.8L695.9,3724.5L699.5,3726.1L703.0,3727.7L706.6,3729.2L710.2,3730.7L713.8,3732.1L717.4,3733.5L721.1,3734.8L724.8,3736.0L728.5,3737.2" stroke-width="11.0"/><path d="M728.5,3737.2L732.3,3738.4L736.0,3739.5L739.8,3740.6L743.6,3741.6L747.5,3742.6L751.3,3743.5L755.2,3744.4L759.1,3745.3L763.0,3746.1L766.9,3746.9L770.8,3747.6L774.8,3748.3L778.8,3749.0" stroke-width="10.5"/><path d="M778.8,3749.0L782.7,3749.6L786.7,3750.2L790.7,3750.8L794.7,3751.4L798.7,3751.9L802.8,3752.4L806.8,3752.9L810.9,3753.3L814.9,3753.7L819.0,3754.2L823.0,3754.5L827.1,3754.9L831.2,3755.2L835.2,3755.6L839.3,3755.9L843.4,3756.2L847.4,3756.5L851.5,3756.8L855.6,3757.0L859.7,3757.3L863.7,3757.5L867.8,3757.8L871.8,3758.0L875.9,3758.2L879.9,3758.5L884.0,3758.7L888.0,3758.9L892.1,3759.1L896.1,3759.3L900.2,3759.4L904.2,3759.6L908.3,3759.8L912.3,3760.0L916.3,3760.1" stroke-width="10.0"/><path d="M916.3,3760.1L920.3,3760.3L924.4,3760.4L928.4,3760.5L932.4,3760.7L936.4,3760.8L940.5,3760.9L944.5,3761.0L948.5,3761.1L952.5,3761.2L956.5,3761.4L960.5,3761.4L964.5,3761.5L968.6,3761.6L972.6,3761.7L976.6,3761.8L980.6,3761.9L984.6,3761.9L988.6,3762.0L992.6,3762.1L996.6,3762.1L1000.6,3762.2L1004.6,3762.2L1008.6,3762.3L1012.6,3762.3L1016.6,3762.4L1020.6,3762.4L1024.5,3762.4L1028.5,3762.5L1032.5,3762.5L1036.5,3762.5L1040.5,3762.6L1044.5,3762.6L1048.5,3762.6L1052.5,3762.7L1056.5,3762.7L1060.5,3762.7L1064.5,3762.7L1068.4,3762.7L1072.4,3762.8L1076.4,3762.8L1080.4,3762.8L1084.4,3762.8L1088.4,3762.8L1092.4,3762.8L1096.4,3762.9L1100.4,3762.9L1104.4,3762.9L1108.4,3762.9L1112.3,3762.9L1116.3,3763.0L1120.3,3763.0L1124.3,3763.0L1128.3,3763.0L1132.3,3763.0L1136.3,3763.1L1140.3,3763.1L1144.3,3763.1L1148.3,3763.2L1152.3,3763.2L1156.3,3763.2L1160.3,3763.3L1164.3,3763.3L1168.3,3763.3L1172.3,3763.4L1176.3,3763.4L1180.3,3763.5L1184.4,3763.5L1188.4,3763.6L1192.4,3763.7L1196.4,3763.7L1200.4,3763.8L1204.4,3763.9L1208.5,3763.9L1212.5,3764.0L1216.5,3764.1L1220.5,3764.2L1224.6,3764.3L1228.6,3764.4L1232.6,3764.5L1236.7,3764.6L1240.7,3764.7L1244.8,3764.8L1248.8,3765.0L1252.8,3765.1L1256.9,3765.2L1260.9,3765.4L1265.0,3765.5" stroke-width="9.5"/></g><g fill="none" stroke="#FF0000" stroke-linecap="round" stroke-linejoin="round"><path d="M429.0,2780.5L430.7,2784.1L432.4,2787.8L434.1,2791.4L435.8,2795.0L437.5,2798.7L439.2,2802.3L440.9,2806.0L442.6,2809.6L444.3,2813.2L446.0,2816.9L447.7,2820.5L449.4,2824.2L451.1,2827.8L452.8,2831.4L454.5,2835.1L456.2,2838.7L457.9,2842.4L459.6,2846.0L461.2,2849.7L462.9,2853.3L464.6,2857.0L466.3,2860.6L467.9,2864.3L469.6,2867.9L471.3,2871.6L472.9,2875.2L474.6,2878.9L476.2,2882.6L477.8,2886.2L479.5,2889.9L481.1,2893.6L482.7,2897.3L484.4,2900.9L486.0,2904.6L487.6,2908.3L489.2,2912.0L490.8,2915.7L492.3,2919.4L493.9,2923.0L495.5,2926.7L497.0,2930.4L498.6,2934.1L500.1,2937.9L501.7,2941.6L503.2,2945.3L504.7,2949.0L506.2,2952.7L507.7,2956.4L509.2,2960.2L510.7,2963.9L512.2,2967.6L513.6,2971.4L515.1,2975.1L516.5,2978.8L518.0,2982.6L519.4,2986.3L520.8,2990.1L522.2,2993.8L523.7,2997.6L525.1,3001.3L526.5,3005.1L527.9,3008.9L529.2,3012.6L530.6,3016.4L532.0,3020.2L533.4,3023.9L534.7,3027.7L536.1,3031.5L537.5,3035.3L538.8,3039.0L540.2,3042.8L541.5,3046.6L542.9,3050.4L544.2,3054.2L545.5,3058.0L546.9,3061.7L548.2,3065.5L549.5,3069.3L550.8,3073.1L552.1,3076.9L553.5,3080.7L554.8,3084.5L556.1,3088.3L557.4,3092.1L558.7,3095.9L560.0,3099.7L561.3,3103.5L562.6,3107.3L563.9,3111.1L565.2,3114.9L566.5,3118.7L567.8,3122.5L569.1,3126.3L570.4,3130.1L571.7,3133.9L573.0,3137.7L574.3,3141.5L575.6,3145.3L576.9,3149.1L578.2,3152.9L579.5,3156.7L580.8,3160.5L582.1,3164.3L583.4,3168.1L584.7,3171.9L586.0,3175.7L587.3,3179.5L588.6,3183.3L589.9,3187.1L591.2,3190.9L592.5,3194.8L593.8,3198.6L595.1,3202.4L596.4,3206.2L597.7,3210.0L599.0,3213.8L600.3,3217.6L601.6,3221.4L602.9,3225.2L604.2,3229.0L605.5,3232.8L606.8,3236.6L608.0,3240.4L609.3,3244.2L610.6,3248.0L611.9,3251.8L613.2,3255.6L614.5,3259.4L615.8,3263.2L617.1,3267.0L618.4,3270.8L619.8,3274.6L621.1,3278.4L622.4,3282.2L623.7,3286.0L625.0,3289.8L626.3,3293.6L627.6,3297.4L628.9,3301.2L630.2,3305.0L631.5,3308.8L632.8,3312.6L634.1,3316.4L635.4,3320.2L636.8,3324.0L638.1,3327.8L639.4,3331.6L640.7,3335.4L642.0,3339.2L643.3,3343.0L644.7,3346.8L646.0,3350.6L647.3,3354.4L648.6,3358.2L650.0,3362.0L651.3,3365.8L652.6,3369.6L653.9,3373.3L655.3,3377.1L656.6,3380.9L657.9,3384.7L659.3,3388.5L660.6,3392.3L662.0,3396.1L663.3,3399.8L664.6,3403.6L666.0,3407.4L667.3,3411.2L668.7,3415.0L670.0,3418.7L671.4,3422.5L672.7,3426.3L674.1,3430.1L675.4,3433.8L676.8,3437.6L678.2,3441.4L679.5,3445.2L680.9,3448.9L682.3,3452.7L683.6,3456.5L685.0,3460.2L686.4,3464.0L687.8,3467.8L689.1,3471.5L690.5,3475.3L691.9,3479.0L693.3,3482.8L694.7,3486.6L696.1,3490.3L697.6,3494.0L699.0,3497.8L700.4,3501.5L701.9,3505.2L703.4,3509.0L704.9,3512.7L706.5,3516.4L708.0,3520.0L709.6,3523.7L711.2,3527.4L712.9,3531.0L714.5,3534.7L716.3,3538.3L718.0,3541.9L719.8,3545.5L721.6,3549.1L723.4,3552.7" stroke-width="11.0"/><path d="M723.4,3552.7L725.3,3556.2L727.3,3559.8L729.3,3563.3L731.3,3566.8L733.3,3570.3L735.4,3573.8L737.5,3577.2L739.7,3580.6L741.9,3584.0L744.1,3587.4L746.4,3590.8L748.6,3594.1L750.9,3597.5L753.3,3600.8L755.6,3604.1L758.0,3607.3L760.4,3610.6L762.9,3613.8L765.3,3617.0L767.8,3620.1L770.3,3623.3L772.8,3626.4L775.4,3629.5L778.0,3632.5L780.6,3635.4L783.3,3638.3L786.1,3641.1L788.9,3643.9L791.8,3646.5L794.8,3649.0L797.9,3651.3L801.1,3653.6L804.4,3655.7L807.8,3657.6" stroke-width="11.5"/><path d="M807.8,3657.6L811.4,3659.5L814.9,3661.2L818.6,3662.8L822.3,3664.3L826.1,3665.8L829.9,3667.2L833.7,3668.6L837.5,3669.9L841.4,3671.2L845.2,3672.5L849.1,3673.7L852.9,3675.0L856.8,3676.2" stroke-width="11.0"/><path d="M856.8,3676.2L860.6,3677.4L864.4,3678.6L868.3,3679.8L872.1,3680.9L876.0,3682.1L879.9,3683.2L883.7,3684.3L887.6,3685.4L891.4,3686.6L895.3,3687.7L899.1,3688.7L903.0,3689.8L906.9,3690.9L910.7,3692.0L914.6,3693.1L918.5,3694.2L922.3,3695.2L926.2,3696.3L930.1,3697.4L933.9,3698.5L937.8,3699.5L941.7,3700.6L945.5,3701.7L949.4,3702.8L953.3,3703.8L957.2,3704.9L961.0,3706.0L964.9,3707.0L968.8,3708.1L972.7,3709.1L976.5,3710.2L980.4,3711.2L984.3,3712.3L988.2,3713.3L992.1,3714.3L996.0,3715.4L999.9,3716.4L1003.7,3717.4L1007.6,3718.4L1011.5,3719.4L1015.4,3720.4L1019.3,3721.4L1023.2,3722.4L1027.1,3723.3L1031.0,3724.3L1034.9,3725.3L1038.8,3726.2L1042.7,3727.2L1046.6,3728.1L1050.5,3729.0L1054.5,3729.9L1058.4,3730.8L1062.3,3731.7L1066.2,3732.6L1070.1,3733.5L1074.0,3734.4L1078.0,3735.2L1081.9,3736.1L1085.8,3736.9L1089.7,3737.7L1093.7,3738.5L1097.6,3739.3L1101.5,3740.1L1105.5,3740.9L1109.4,3741.6L1113.4,3742.4L1117.3,3743.1L1121.2,3743.8L1125.2,3744.5L1129.1,3745.2L1133.1,3745.9" stroke-width="10.5"/><path d="M1133.1,3745.9L1137.0,3746.5L1141.0,3747.2L1145.0,3747.8L1148.9,3748.4L1152.9,3749.0L1156.9,3749.6L1160.8,3750.1L1164.8,3750.7L1168.8,3751.2L1172.7,3751.7L1176.7,3752.2L1180.7,3752.7L1184.7,3753.1L1188.7,3753.6L1192.7,3754.0L1196.7,3754.4L1200.7,3754.8L1204.7,3755.1L1208.7,3755.5L1212.7,3755.8L1216.7,3756.1L1220.7,3756.4L1224.7,3756.6L1228.7,3756.9L1232.7,3757.1L1236.8,3757.3L1240.8,3757.4" stroke-width="10.0"/><path d="M1240.8,3757.4L1244.8,3757.6L1248.8,3757.7L1252.9,3757.8L1256.9,3757.9L1261.0,3758.0L1265.0,3758.0" stroke-width="9.5"/></g></g>
<path d="M427.0,2757.4L449.6,2780.0L427.0,2802.6L404.4,2780.0Z" fill="none" stroke="#000000" stroke-width="5.5" stroke-linejoin="bevel"/>
<path d="M436.0,2797.4L458.6,2820.0L436.0,2842.6L413.4,2820.0Z" fill="none" stroke="#000000" stroke-width="5.5" stroke-linejoin="bevel"/>
<path d="M452.0,2835.4L474.6,2858.0L452.0,2880.6L429.4,2858.0Z" fill="none" stroke="#000000" stroke-width="5.5" stroke-linejoin="bevel"/>
<path d="M480.5,2861.4L503.1,2884.0L480.5,2906.6L457.9,2884.0Z" fill="none" stroke="#000000" stroke-width="5.5" stroke-linejoin="bevel"/>
<path d="M539.6,2934.6L562.2,2957.2L539.6,2979.8L517.0,2957.2Z" fill="none" stroke="#000000" stroke-width="5.5" stroke-linejoin="bevel"/>
<path d="M608.0,3038.9L630.6,3061.5L608.0,3084.1L585.4,3061.5Z" fill="none" stroke="#000000" stroke-width="5.5" stroke-linejoin="bevel"/>
<path d="M708.5,3174.9L731.1,3197.5L708.5,3220.1L685.9,3197.5Z" fill="none" stroke="#000000" stroke-width="5.5" stroke-linejoin="bevel"/>
<path d="M817.5,3310.7L840.1,3333.3L817.5,3355.9L794.9,3333.3Z" fill="none" stroke="#000000" stroke-width="5.5" stroke-linejoin="bevel"/>
<path d="M1267.0,3633.9L1289.6,3656.5L1267.0,3679.1L1244.4,3656.5Z" fill="none" stroke="#000000" stroke-width="5.5" stroke-linejoin="bevel"/>
<path d="M1672.2,3733.9L1694.8,3756.5L1672.2,3779.1L1649.7,3756.5Z" fill="none" stroke="#000000" stroke-width="5.5" stroke-linejoin="bevel"/>
<path d="M427.0,2765.4L449.6,2810.6L404.4,2810.6Z" fill="none" stroke="#FF0000" stroke-width="5.8" stroke-linejoin="round"/>
<path d="M444.5,2774.9L467.1,2820.1L421.9,2820.1Z" fill="none" stroke="#FF0000" stroke-width="5.8" stroke-linejoin="round"/>
<path d="M454.0,2802.0L476.6,2847.2L431.4,2847.2Z" fill="none" stroke="#FF0000" stroke-width="5.8" stroke-linejoin="round"/>
<path d="M481.0,2856.1L503.6,2901.3L458.4,2901.3Z" fill="none" stroke="#FF0000" stroke-width="5.8" stroke-linejoin="round"/>
<path d="M540.0,2991.9L562.6,3037.1L517.4,3037.1Z" fill="none" stroke="#FF0000" stroke-width="5.8" stroke-linejoin="round"/>
<path d="M649.3,3333.3L671.9,3378.5L626.7,3378.5Z" fill="none" stroke="#FF0000" stroke-width="5.8" stroke-linejoin="round"/>
<path d="M708.2,3505.2L730.8,3550.4L685.6,3550.4Z" fill="none" stroke="#FF0000" stroke-width="5.8" stroke-linejoin="round"/>
<path d="M762.9,3605.3L785.5,3650.5L740.3,3650.5Z" fill="none" stroke="#FF0000" stroke-width="5.8" stroke-linejoin="round"/>
<path d="M817.6,3655.1L840.2,3700.3L795.0,3700.3Z" fill="none" stroke="#FF0000" stroke-width="5.8" stroke-linejoin="round"/>
<path d="M1098.8,3723.4L1121.4,3768.6L1076.2,3768.6Z" fill="none" stroke="#FF0000" stroke-width="5.8" stroke-linejoin="round"/>
<path d="M1267.4,3741.4L1290.0,3786.6L1244.8,3786.6Z" fill="none" stroke="#FF0000" stroke-width="5.8" stroke-linejoin="round"/>
<circle cx="422.0" cy="2774.7" r="18.0" fill="none" stroke="#0000FF" stroke-width="6.0"/>
<circle cx="431.2" cy="2794.0" r="18.0" fill="none" stroke="#0000FF" stroke-width="6.0"/>
<circle cx="440.5" cy="2826.0" r="18.0" fill="none" stroke="#0000FF" stroke-width="6.0"/>
<circle cx="450.0" cy="2929.6" r="18.0" fill="none" stroke="#0000FF" stroke-width="6.0"/>
<circle cx="476.9" cy="3179.5" r="18.0" fill="none" stroke="#0000FF" stroke-width="6.0"/>
<circle cx="535.6" cy="3474.3" r="18.0" fill="none" stroke="#0000FF" stroke-width="6.0"/>
<circle cx="590.3" cy="3642.5" r="18.0" fill="none" stroke="#0000FF" stroke-width="6.0"/>
<circle cx="644.6" cy="3719.4" r="18.0" fill="none" stroke="#0000FF" stroke-width="6.0"/>
<circle cx="759.0" cy="3760.4" r="18.0" fill="none" stroke="#0000FF" stroke-width="6.0"/>
<circle cx="1263.1" cy="3760.5" r="18.0" fill="none" stroke="#0000FF" stroke-width="6.0"/>
<text x="367.6" y="3789.5" font-size="76" textLength="91.7" lengthAdjust="spacingAndGlyphs" text-anchor="end">0.0</text>
<text x="367.6" y="3592.5" font-size="76" textLength="91.7" lengthAdjust="spacingAndGlyphs" text-anchor="end">0.2</text>
<text x="367.6" y="3395.5" font-size="76" textLength="91.7" lengthAdjust="spacingAndGlyphs" text-anchor="end">0.4</text>
<text x="367.6" y="3198.5" font-size="76" textLength="91.7" lengthAdjust="spacingAndGlyphs" text-anchor="end">0.6</text>
<text x="367.6" y="3001.5" font-size="76" textLength="91.7" lengthAdjust="spacingAndGlyphs" text-anchor="end">0.8</text>
<text x="367.6" y="2804.5" font-size="76" textLength="91.7" lengthAdjust="spacingAndGlyphs" text-anchor="end">1.0</text>
<text x="429.0" y="3875" font-size="76" textLength="36.7" lengthAdjust="spacingAndGlyphs" text-anchor="middle">0</text>
<text x="616.0" y="3875" font-size="76" textLength="110.0" lengthAdjust="spacingAndGlyphs" text-anchor="middle">200</text>
<text x="803.0" y="3875" font-size="76" textLength="110.0" lengthAdjust="spacingAndGlyphs" text-anchor="middle">400</text>
<text x="990.0" y="3875" font-size="76" textLength="110.0" lengthAdjust="spacingAndGlyphs" text-anchor="middle">600</text>
<text x="1177.0" y="3875" font-size="76" textLength="110.0" lengthAdjust="spacingAndGlyphs" text-anchor="middle">800</text>
<text x="1364.0" y="3875" font-size="76" textLength="146.7" lengthAdjust="spacingAndGlyphs" text-anchor="middle">1000</text>
<text x="1551.0" y="3875" font-size="76" textLength="146.7" lengthAdjust="spacingAndGlyphs" text-anchor="middle">1200</text>
<text x="1738.0" y="3875" font-size="76" textLength="146.7" lengthAdjust="spacingAndGlyphs" text-anchor="middle">1400</text>
<text x="933.3" y="2957.4" font-size="74" font-weight="bold" textLength="296.7" lengthAdjust="spacingAndGlyphs" text-anchor="start">CFNS400</text>
<text x="980.6" y="3971.7" font-size="79" font-weight="bold" textLength="22.9" lengthAdjust="spacingAndGlyphs" text-anchor="start">t</text>
<text x="1019.7" y="3971.7" font-size="73.5" font-weight="bold" textLength="26.8" lengthAdjust="spacingAndGlyphs" text-anchor="start">(</text>
<text x="1044.9" y="3971.7" font-size="74" font-weight="bold" textLength="109.6" lengthAdjust="spacingAndGlyphs" text-anchor="start">min</text>
<text x="1151.1" y="3971.7" font-size="73.5" font-weight="bold" textLength="26.4" lengthAdjust="spacingAndGlyphs" text-anchor="start">)</text>
<text x="128.9" y="3655.4" font-size="74" font-weight="bold" textLength="304.9" lengthAdjust="spacingAndGlyphs" transform="rotate(-90 128.9 3655.4)">Normalize</text>
<text x="128.9" y="3347.3" font-size="74" font-weight="bold" textLength="39.3" lengthAdjust="spacingAndGlyphs" transform="rotate(-90 128.9 3347.3)">d</text>
<text x="128.9" y="3273.2" font-size="74" font-weight="bold" textLength="167.6" lengthAdjust="spacingAndGlyphs" transform="rotate(-90 128.9 3273.2)">conce</text>
<text x="128.9" y="3100.2" font-size="74" font-weight="bold" textLength="237.5" lengthAdjust="spacingAndGlyphs" transform="rotate(-90 128.9 3100.2)">ntration</text>
<text x="210.3" y="3414.2" font-size="74" font-weight="bold" textLength="66.1" lengthAdjust="spacingAndGlyphs" transform="rotate(-90 210.3 3414.2)">of</text>
<text x="210.3" y="3335.5" font-size="74" font-weight="bold" textLength="103.0" lengthAdjust="spacingAndGlyphs" transform="rotate(-90 210.3 3335.5)">phe</text>
<text x="210.3" y="3227.1" font-size="74" font-weight="bold" textLength="116.0" lengthAdjust="spacingAndGlyphs" transform="rotate(-90 210.3 3227.1)">nols</text>
</svg>
</body></html>
